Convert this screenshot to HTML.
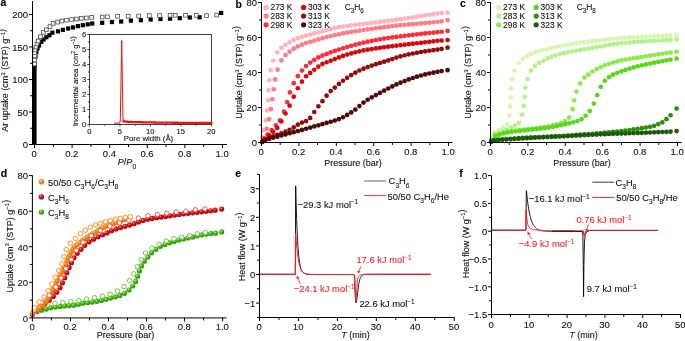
<!DOCTYPE html>
<html><head><meta charset="utf-8"><style>
html,body{margin:0;padding:0;background:#fff;}
svg{display:block;filter:blur(0.35px);}
text{font-family:"Liberation Sans", sans-serif;stroke-width:0.1px;}
</style></head><body>
<svg width="685" height="341" viewBox="0 0 685 341">
<rect width="685" height="341" fill="#fff"/>
<text x="0.6" y="6.3" font-size="10.5" text-anchor="start" fill="#000" stroke="#000" font-weight="bold" stroke-width="0.45">a</text>
<rect x="32.4" y="63.75" width="4.2" height="80.75" fill="#000"/>
<rect x="32.4" y="63.75" width="4.2" height="4.2" fill="#000"/>
<rect x="33.34" y="54.65" width="4.2" height="4.2" fill="#000"/>
<rect x="34.28" y="50.1" width="4.2" height="4.2" fill="#000"/>
<rect x="35.41" y="46.2" width="4.2" height="4.2" fill="#000"/>
<rect x="36.91" y="43.34" width="4.2" height="4.2" fill="#000"/>
<rect x="39.17" y="39.7" width="4.2" height="4.2" fill="#000"/>
<rect x="41.42" y="37.42" width="4.2" height="4.2" fill="#000"/>
<rect x="44.24" y="35.15" width="4.2" height="4.2" fill="#000"/>
<rect x="47.25" y="33.2" width="4.2" height="4.2" fill="#000"/>
<rect x="50.26" y="30.6" width="4.2" height="4.2" fill="#000"/>
<rect x="55.9" y="29.23" width="4.2" height="4.2" fill="#000"/>
<rect x="60.79" y="27.74" width="4.2" height="4.2" fill="#000"/>
<rect x="66.05" y="26.37" width="4.2" height="4.2" fill="#000"/>
<rect x="70.94" y="25.34" width="4.2" height="4.2" fill="#000"/>
<rect x="75.83" y="24.04" width="4.2" height="4.2" fill="#000"/>
<rect x="80.72" y="23.12" width="4.2" height="4.2" fill="#000"/>
<rect x="85.6" y="22.21" width="4.2" height="4.2" fill="#000"/>
<rect x="90.12" y="21.43" width="4.2" height="4.2" fill="#000"/>
<rect x="100.08" y="20.72" width="4.2" height="4.2" fill="#000"/>
<rect x="109.86" y="19.94" width="4.2" height="4.2" fill="#000"/>
<rect x="119.07" y="19.42" width="4.2" height="4.2" fill="#000"/>
<rect x="128.84" y="18.51" width="4.2" height="4.2" fill="#000"/>
<rect x="138.81" y="18.12" width="4.2" height="4.2" fill="#000"/>
<rect x="148.58" y="17.4" width="4.2" height="4.2" fill="#000"/>
<rect x="158.36" y="16.95" width="4.2" height="4.2" fill="#000"/>
<rect x="167.95" y="16.56" width="4.2" height="4.2" fill="#000"/>
<rect x="177.72" y="16.1" width="4.2" height="4.2" fill="#000"/>
<rect x="187.69" y="15.39" width="4.2" height="4.2" fill="#000"/>
<rect x="197.46" y="15.2" width="4.2" height="4.2" fill="#000"/>
<rect x="32.65" y="62.18" width="3.7" height="3.7" fill="#fff" stroke="#555" stroke-width="0.85"/>
<rect x="32.65" y="58.15" width="3.7" height="3.7" fill="#fff" stroke="#555" stroke-width="0.85"/>
<rect x="32.74" y="54.12" width="3.7" height="3.7" fill="#fff" stroke="#555" stroke-width="0.85"/>
<rect x="32.74" y="50.93" width="3.7" height="3.7" fill="#fff" stroke="#555" stroke-width="0.85"/>
<rect x="33.21" y="48.07" width="3.7" height="3.7" fill="#fff" stroke="#555" stroke-width="0.85"/>
<rect x="34.15" y="45.15" width="3.7" height="3.7" fill="#fff" stroke="#555" stroke-width="0.85"/>
<rect x="35.19" y="42.03" width="3.7" height="3.7" fill="#fff" stroke="#555" stroke-width="0.85"/>
<rect x="36.35" y="39.23" width="3.7" height="3.7" fill="#fff" stroke="#555" stroke-width="0.85"/>
<rect x="38.55" y="34.88" width="3.7" height="3.7" fill="#fff" stroke="#555" stroke-width="0.85"/>
<rect x="41.54" y="30.46" width="3.7" height="3.7" fill="#fff" stroke="#555" stroke-width="0.85"/>
<rect x="44.46" y="27.92" width="3.7" height="3.7" fill="#fff" stroke="#555" stroke-width="0.85"/>
<rect x="48.14" y="24.67" width="3.7" height="3.7" fill="#fff" stroke="#555" stroke-width="0.85"/>
<rect x="51.26" y="21.55" width="3.7" height="3.7" fill="#fff" stroke="#555" stroke-width="0.85"/>
<rect x="55.77" y="20.25" width="3.7" height="3.7" fill="#fff" stroke="#555" stroke-width="0.85"/>
<rect x="60.1" y="19.15" width="3.7" height="3.7" fill="#fff" stroke="#555" stroke-width="0.85"/>
<rect x="64.61" y="18.37" width="3.7" height="3.7" fill="#fff" stroke="#555" stroke-width="0.85"/>
<rect x="69.69" y="17.65" width="3.7" height="3.7" fill="#fff" stroke="#555" stroke-width="0.85"/>
<rect x="74.57" y="17.2" width="3.7" height="3.7" fill="#fff" stroke="#555" stroke-width="0.85"/>
<rect x="79.46" y="16.55" width="3.7" height="3.7" fill="#fff" stroke="#555" stroke-width="0.85"/>
<rect x="84.54" y="16.16" width="3.7" height="3.7" fill="#fff" stroke="#555" stroke-width="0.85"/>
<rect x="89.8" y="15.57" width="3.7" height="3.7" fill="#fff" stroke="#555" stroke-width="0.85"/>
<rect x="100.33" y="15.25" width="3.7" height="3.7" fill="#fff" stroke="#555" stroke-width="0.85"/>
<rect x="105.59" y="14.99" width="3.7" height="3.7" fill="#fff" stroke="#555" stroke-width="0.85"/>
<rect x="115.75" y="14.34" width="3.7" height="3.7" fill="#fff" stroke="#555" stroke-width="0.85"/>
<rect x="126.27" y="14.34" width="3.7" height="3.7" fill="#fff" stroke="#555" stroke-width="0.85"/>
<rect x="136.8" y="14.21" width="3.7" height="3.7" fill="#fff" stroke="#555" stroke-width="0.85"/>
<rect x="147.52" y="13.75" width="3.7" height="3.7" fill="#fff" stroke="#555" stroke-width="0.85"/>
<rect x="157.67" y="13.75" width="3.7" height="3.7" fill="#fff" stroke="#555" stroke-width="0.85"/>
<rect x="168.2" y="13.43" width="3.7" height="3.7" fill="#fff" stroke="#555" stroke-width="0.85"/>
<rect x="173.46" y="13.43" width="3.7" height="3.7" fill="#fff" stroke="#555" stroke-width="0.85"/>
<rect x="183.61" y="13.43" width="3.7" height="3.7" fill="#fff" stroke="#555" stroke-width="0.85"/>
<rect x="194.33" y="13.43" width="3.7" height="3.7" fill="#fff" stroke="#555" stroke-width="0.85"/>
<rect x="204.67" y="13.75" width="3.7" height="3.7" fill="#fff" stroke="#555" stroke-width="0.85"/>
<rect x="214.82" y="13.17" width="3.7" height="3.7" fill="#fff" stroke="#555" stroke-width="0.85"/>
<rect x="219.08" y="10.84" width="4.2" height="4.2" fill="#000"/>
<line x1="32.5" y1="1" x2="32.5" y2="145" stroke="#000" stroke-width="1.0" />
<line x1="32" y1="144.5" x2="227" y2="144.5" stroke="#000" stroke-width="1.0" />
<line x1="29" y1="144.5" x2="32.5" y2="144.5" stroke="#000" stroke-width="1.0" />
<line x1="29" y1="112" x2="32.5" y2="112" stroke="#000" stroke-width="1.0" />
<line x1="29" y1="79.5" x2="32.5" y2="79.5" stroke="#000" stroke-width="1.0" />
<line x1="29" y1="47" x2="32.5" y2="47" stroke="#000" stroke-width="1.0" />
<line x1="29" y1="14.5" x2="32.5" y2="14.5" stroke="#000" stroke-width="1.0" />
<line x1="30" y1="128.25" x2="32.5" y2="128.25" stroke="#000" stroke-width="1.0" />
<line x1="30" y1="95.75" x2="32.5" y2="95.75" stroke="#000" stroke-width="1.0" />
<line x1="30" y1="63.25" x2="32.5" y2="63.25" stroke="#000" stroke-width="1.0" />
<line x1="30" y1="30.75" x2="32.5" y2="30.75" stroke="#000" stroke-width="1.0" />
<line x1="34.5" y1="144.5" x2="34.5" y2="148" stroke="#000" stroke-width="1.0" />
<line x1="72.1" y1="144.5" x2="72.1" y2="148" stroke="#000" stroke-width="1.0" />
<line x1="109.7" y1="144.5" x2="109.7" y2="148" stroke="#000" stroke-width="1.0" />
<line x1="147.3" y1="144.5" x2="147.3" y2="148" stroke="#000" stroke-width="1.0" />
<line x1="184.9" y1="144.5" x2="184.9" y2="148" stroke="#000" stroke-width="1.0" />
<line x1="222.5" y1="144.5" x2="222.5" y2="148" stroke="#000" stroke-width="1.0" />
<line x1="53.3" y1="144.5" x2="53.3" y2="147" stroke="#000" stroke-width="1.0" />
<line x1="90.9" y1="144.5" x2="90.9" y2="147" stroke="#000" stroke-width="1.0" />
<line x1="128.5" y1="144.5" x2="128.5" y2="147" stroke="#000" stroke-width="1.0" />
<line x1="166.1" y1="144.5" x2="166.1" y2="147" stroke="#000" stroke-width="1.0" />
<line x1="203.7" y1="144.5" x2="203.7" y2="147" stroke="#000" stroke-width="1.0" />
<text x="28.1" y="148.3" font-size="9.5" text-anchor="end" fill="#111" stroke="#111" >0</text>
<text x="28.1" y="115.8" font-size="9.5" text-anchor="end" fill="#111" stroke="#111" >50</text>
<text x="28.1" y="83.3" font-size="9.5" text-anchor="end" fill="#111" stroke="#111" >100</text>
<text x="28.1" y="50.8" font-size="9.5" text-anchor="end" fill="#111" stroke="#111" >150</text>
<text x="28.1" y="18.3" font-size="9.5" text-anchor="end" fill="#111" stroke="#111" >200</text>
<text x="34.2" y="157.4" font-size="9.5" text-anchor="middle" fill="#111" stroke="#111" >0</text>
<text x="71.8" y="157.4" font-size="9.5" text-anchor="middle" fill="#111" stroke="#111" >0.2</text>
<text x="109.4" y="157.4" font-size="9.5" text-anchor="middle" fill="#111" stroke="#111" >0.4</text>
<text x="147" y="157.4" font-size="9.5" text-anchor="middle" fill="#111" stroke="#111" >0.6</text>
<text x="184.6" y="157.4" font-size="9.5" text-anchor="middle" fill="#111" stroke="#111" >0.8</text>
<text x="222.2" y="157.4" font-size="9.5" text-anchor="middle" fill="#111" stroke="#111" >1.0</text>
<text transform="translate(8,80.3) rotate(-90)" font-size="9" text-anchor="middle" fill="#111" stroke="#111">Ar uptake (cm<tspan dy="-3.2" font-size="6">3</tspan><tspan dy="3.2"> </tspan>(STP) g<tspan dy="-3.2" font-size="6">−1</tspan><tspan dy="3.2"></tspan>)</text>
<text x="127" y="165.3" font-size="9" text-anchor="middle" fill="#111" stroke="#111"><tspan font-style="italic">P</tspan>/<tspan font-style="italic">P</tspan><tspan dy="3.2" font-size="6.8">0</tspan></text>
<rect x="89.5" y="34.5" width="122" height="90" fill="#fff" stroke="#2a2a2a" stroke-width="0.9"/>
<line x1="87.3" y1="124.5" x2="89.5" y2="124.5" stroke="#2a2a2a" stroke-width="0.9" />
<text x="86.3" y="127.2" font-size="7.6" text-anchor="end" fill="#111" stroke="#111" >0</text>
<line x1="87.3" y1="109.5" x2="89.5" y2="109.5" stroke="#2a2a2a" stroke-width="0.9" />
<text x="86.3" y="112.2" font-size="7.6" text-anchor="end" fill="#111" stroke="#111" >1</text>
<line x1="87.3" y1="94.5" x2="89.5" y2="94.5" stroke="#2a2a2a" stroke-width="0.9" />
<text x="86.3" y="97.2" font-size="7.6" text-anchor="end" fill="#111" stroke="#111" >2</text>
<line x1="87.3" y1="79.5" x2="89.5" y2="79.5" stroke="#2a2a2a" stroke-width="0.9" />
<text x="86.3" y="82.2" font-size="7.6" text-anchor="end" fill="#111" stroke="#111" >3</text>
<line x1="87.3" y1="64.5" x2="89.5" y2="64.5" stroke="#2a2a2a" stroke-width="0.9" />
<text x="86.3" y="67.2" font-size="7.6" text-anchor="end" fill="#111" stroke="#111" >4</text>
<line x1="87.3" y1="49.5" x2="89.5" y2="49.5" stroke="#2a2a2a" stroke-width="0.9" />
<text x="86.3" y="52.2" font-size="7.6" text-anchor="end" fill="#111" stroke="#111" >5</text>
<line x1="87.3" y1="34.5" x2="89.5" y2="34.5" stroke="#2a2a2a" stroke-width="0.9" />
<text x="86.3" y="37.2" font-size="7.6" text-anchor="end" fill="#111" stroke="#111" >6</text>
<line x1="88.1" y1="117" x2="89.5" y2="117" stroke="#2a2a2a" stroke-width="0.9" />
<line x1="88.1" y1="102" x2="89.5" y2="102" stroke="#2a2a2a" stroke-width="0.9" />
<line x1="88.1" y1="87" x2="89.5" y2="87" stroke="#2a2a2a" stroke-width="0.9" />
<line x1="88.1" y1="72" x2="89.5" y2="72" stroke="#2a2a2a" stroke-width="0.9" />
<line x1="88.1" y1="57" x2="89.5" y2="57" stroke="#2a2a2a" stroke-width="0.9" />
<line x1="88.1" y1="42" x2="89.5" y2="42" stroke="#2a2a2a" stroke-width="0.9" />
<line x1="89.5" y1="124.5" x2="89.5" y2="126.4" stroke="#2a2a2a" stroke-width="0.9" />
<text x="89.3" y="133.7" font-size="7.6" text-anchor="middle" fill="#111" stroke="#111" >0</text>
<line x1="120" y1="124.5" x2="120" y2="126.4" stroke="#2a2a2a" stroke-width="0.9" />
<text x="119.8" y="133.7" font-size="7.6" text-anchor="middle" fill="#111" stroke="#111" >5</text>
<line x1="150.5" y1="124.5" x2="150.5" y2="126.4" stroke="#2a2a2a" stroke-width="0.9" />
<text x="150.3" y="133.7" font-size="7.6" text-anchor="middle" fill="#111" stroke="#111" >10</text>
<line x1="181" y1="124.5" x2="181" y2="126.4" stroke="#2a2a2a" stroke-width="0.9" />
<text x="180.8" y="133.7" font-size="7.6" text-anchor="middle" fill="#111" stroke="#111" >15</text>
<line x1="211.5" y1="124.5" x2="211.5" y2="126.4" stroke="#2a2a2a" stroke-width="0.9" />
<text x="211.3" y="133.7" font-size="7.6" text-anchor="middle" fill="#111" stroke="#111" >20</text>
<line x1="104.75" y1="124.5" x2="104.75" y2="125.8" stroke="#2a2a2a" stroke-width="0.9" />
<line x1="135.25" y1="124.5" x2="135.25" y2="125.8" stroke="#2a2a2a" stroke-width="0.9" />
<line x1="165.75" y1="124.5" x2="165.75" y2="125.8" stroke="#2a2a2a" stroke-width="0.9" />
<line x1="196.25" y1="124.5" x2="196.25" y2="125.8" stroke="#2a2a2a" stroke-width="0.9" />
<text transform="translate(78,81.3) rotate(-90)" font-size="7.7" text-anchor="middle" fill="#111" stroke="#111">Incremental area (cm<tspan dy="-2.8" font-size="5">2</tspan><tspan dy="2.8"> </tspan>g<tspan dy="-2.8" font-size="5">−1</tspan><tspan dy="2.8"></tspan>)</text>
<text x="148.5" y="140.8" font-size="7.8" text-anchor="middle" fill="#111" stroke="#111" >Pore width (Å)</text>
<path d="M113.9,123.19 L119.69,123.19 L120.3,120 L121.71,41.1 L122.93,117 L123.35,121.31" fill="none" stroke="#f01018" stroke-width="1.0" stroke-linejoin="round"/>
<path d="M123.35,121.29 L124.25,121.39 L125.14,121.49 L126.03,121.59 L126.92,121.68 L127.81,121.76 L128.7,121.83 L129.59,121.88 L130.48,121.93 L131.37,121.96 L132.26,122 L133.15,122.03 L134.04,122.06 L134.93,122.08 L135.82,122.1 L136.71,122.13 L137.6,122.15 L138.49,122.17 L139.38,122.19 L140.27,122.21 L141.16,122.23 L142.05,122.25 L142.94,122.27 L143.83,122.29 L144.72,122.31 L145.61,122.33 L146.5,122.35 L147.39,122.37 L148.28,122.39 L149.18,122.41 L150.07,122.42 L150.96,122.44 L151.85,122.46 L152.74,122.47 L153.63,122.49 L154.52,122.5 L155.41,122.51 L156.3,122.53 L157.19,122.54 L158.08,122.56 L158.97,122.57 L159.86,122.58 L160.75,122.59 L161.64,122.61 L162.53,122.62 L163.42,122.63 L164.31,122.64 L165.2,122.65 L166.09,122.66 L166.98,122.67 L167.87,122.68 L168.76,122.69 L169.65,122.7 L170.54,122.7 L171.43,122.71 L172.32,122.72 L173.21,122.73 L174.11,122.73 L175,122.74 L175.89,122.75 L176.78,122.75 L177.67,122.76 L178.56,122.77 L179.45,122.78 L180.34,122.78 L181.23,122.79 L182.12,122.8 L183.01,122.8 L183.9,122.81 L184.79,122.82 L185.68,122.82 L186.57,122.83 L187.46,122.83 L188.35,122.84 L189.24,122.85 L190.13,122.85 L191.02,122.86 L191.91,122.86 L192.8,122.87 L193.69,122.87 L194.58,122.88 L195.47,122.88 L196.36,122.89 L197.25,122.89 L198.14,122.9 L199.04,122.9 L199.93,122.9 L200.82,122.91 L201.71,122.91 L202.6,122.91 L203.49,122.91 L204.38,122.92 L205.27,122.92 L206.16,122.92 L207.05,122.92 L207.94,122.92 L208.83,122.92 L209.72,122.92 L210.61,122.92 L211.5,122.92" fill="none" stroke="#f01018" stroke-width="2.3" stroke-linecap="round"/>
<circle cx="121.71" cy="41.1" r="0.9" fill="#f01018"/>
<text x="235.6" y="7.5" font-size="10.5" text-anchor="start" fill="#000" stroke="#000" font-weight="bold" stroke-width="0.45">b</text>
<circle cx="262.25" cy="137.59" r="2.35" fill="#ffb3bc" />
<circle cx="263.45" cy="130.05" r="2.35" fill="#ffb3bc" />
<circle cx="265.76" cy="120.32" r="2.35" fill="#ffb3bc" />
<circle cx="267.02" cy="110.34" r="2.35" fill="#ffb3bc" />
<circle cx="267.99" cy="100.34" r="2.35" fill="#ffb3bc" />
<circle cx="268.55" cy="90.21" r="2.35" fill="#ffb3bc" />
<circle cx="269.32" cy="80.2" r="2.35" fill="#ffb3bc" />
<circle cx="270.65" cy="70.22" r="2.35" fill="#ffb3bc" />
<circle cx="273.2" cy="60.51" r="2.35" fill="#ffb3bc" />
<circle cx="277.3" cy="52.5" r="2.35" fill="#ffb3bc" />
<circle cx="281.41" cy="47.74" r="2.35" fill="#ffb3bc" />
<circle cx="285.52" cy="44.73" r="2.35" fill="#ffb3bc" />
<circle cx="289.62" cy="42.26" r="2.35" fill="#ffb3bc" />
<circle cx="293.73" cy="39.96" r="2.35" fill="#ffb3bc" />
<circle cx="297.84" cy="38.17" r="2.35" fill="#ffb3bc" />
<circle cx="301.95" cy="36.78" r="2.35" fill="#ffb3bc" />
<circle cx="306.05" cy="35.58" r="2.35" fill="#ffb3bc" />
<circle cx="310.16" cy="34.5" r="2.35" fill="#ffb3bc" />
<circle cx="314.27" cy="33.46" r="2.35" fill="#ffb3bc" />
<circle cx="318.37" cy="32.39" r="2.35" fill="#ffb3bc" />
<circle cx="322.48" cy="31.27" r="2.35" fill="#ffb3bc" />
<circle cx="326.59" cy="30.14" r="2.35" fill="#ffb3bc" />
<circle cx="330.69" cy="29.05" r="2.35" fill="#ffb3bc" />
<circle cx="334.8" cy="28.06" r="2.35" fill="#ffb3bc" />
<circle cx="338.91" cy="27.2" r="2.35" fill="#ffb3bc" />
<circle cx="343.01" cy="26.51" r="2.35" fill="#ffb3bc" />
<circle cx="347.12" cy="25.89" r="2.35" fill="#ffb3bc" />
<circle cx="351.23" cy="25.33" r="2.35" fill="#ffb3bc" />
<circle cx="355.34" cy="24.81" r="2.35" fill="#ffb3bc" />
<circle cx="359.44" cy="24.33" r="2.35" fill="#ffb3bc" />
<circle cx="363.55" cy="23.87" r="2.35" fill="#ffb3bc" />
<circle cx="367.66" cy="23.42" r="2.35" fill="#ffb3bc" />
<circle cx="371.76" cy="22.95" r="2.35" fill="#ffb3bc" />
<circle cx="375.87" cy="22.46" r="2.35" fill="#ffb3bc" />
<circle cx="379.98" cy="21.94" r="2.35" fill="#ffb3bc" />
<circle cx="384.08" cy="21.38" r="2.35" fill="#ffb3bc" />
<circle cx="388.19" cy="20.81" r="2.35" fill="#ffb3bc" />
<circle cx="392.3" cy="20.24" r="2.35" fill="#ffb3bc" />
<circle cx="396.4" cy="19.65" r="2.35" fill="#ffb3bc" />
<circle cx="400.51" cy="19.07" r="2.35" fill="#ffb3bc" />
<circle cx="404.62" cy="18.48" r="2.35" fill="#ffb3bc" />
<circle cx="408.73" cy="17.89" r="2.35" fill="#ffb3bc" />
<circle cx="412.83" cy="17.3" r="2.35" fill="#ffb3bc" />
<circle cx="416.94" cy="16.67" r="2.35" fill="#ffb3bc" />
<circle cx="421.05" cy="16.02" r="2.35" fill="#ffb3bc" />
<circle cx="425.15" cy="15.36" r="2.35" fill="#ffb3bc" />
<circle cx="429.26" cy="14.73" r="2.35" fill="#ffb3bc" />
<circle cx="433.37" cy="14.14" r="2.35" fill="#ffb3bc" />
<circle cx="437.47" cy="13.61" r="2.35" fill="#ffb3bc" />
<circle cx="441.58" cy="13.17" r="2.35" fill="#ffb3bc" />
<circle cx="447.56" cy="12.71" r="2.35" fill="#ffb3bc" />
<circle cx="263.06" cy="138.07" r="2.35" fill="#ff7b88" />
<circle cx="266.71" cy="128.76" r="2.35" fill="#ff7b88" />
<circle cx="269.12" cy="119.05" r="2.35" fill="#ff7b88" />
<circle cx="270.88" cy="109.16" r="2.35" fill="#ff7b88" />
<circle cx="272.39" cy="99.25" r="2.35" fill="#ff7b88" />
<circle cx="273.82" cy="89.33" r="2.35" fill="#ff7b88" />
<circle cx="275.23" cy="79.39" r="2.35" fill="#ff7b88" />
<circle cx="277.58" cy="69.66" r="2.35" fill="#ff7b88" />
<circle cx="281.41" cy="60.41" r="2.35" fill="#ff7b88" />
<circle cx="285.52" cy="54.99" r="2.35" fill="#ff7b88" />
<circle cx="289.62" cy="51.72" r="2.35" fill="#ff7b88" />
<circle cx="293.73" cy="48.7" r="2.35" fill="#ff7b88" />
<circle cx="297.84" cy="46.39" r="2.35" fill="#ff7b88" />
<circle cx="301.95" cy="44.63" r="2.35" fill="#ff7b88" />
<circle cx="306.05" cy="43.12" r="2.35" fill="#ff7b88" />
<circle cx="310.16" cy="41.79" r="2.35" fill="#ff7b88" />
<circle cx="314.27" cy="40.57" r="2.35" fill="#ff7b88" />
<circle cx="318.37" cy="39.38" r="2.35" fill="#ff7b88" />
<circle cx="322.48" cy="38.21" r="2.35" fill="#ff7b88" />
<circle cx="326.59" cy="37.11" r="2.35" fill="#ff7b88" />
<circle cx="330.69" cy="36.07" r="2.35" fill="#ff7b88" />
<circle cx="334.8" cy="35.11" r="2.35" fill="#ff7b88" />
<circle cx="338.91" cy="34.23" r="2.35" fill="#ff7b88" />
<circle cx="343.01" cy="33.43" r="2.35" fill="#ff7b88" />
<circle cx="347.12" cy="32.67" r="2.35" fill="#ff7b88" />
<circle cx="351.23" cy="31.96" r="2.35" fill="#ff7b88" />
<circle cx="355.34" cy="31.28" r="2.35" fill="#ff7b88" />
<circle cx="359.44" cy="30.64" r="2.35" fill="#ff7b88" />
<circle cx="363.55" cy="30.02" r="2.35" fill="#ff7b88" />
<circle cx="367.66" cy="29.42" r="2.35" fill="#ff7b88" />
<circle cx="371.76" cy="28.84" r="2.35" fill="#ff7b88" />
<circle cx="375.87" cy="28.27" r="2.35" fill="#ff7b88" />
<circle cx="379.98" cy="27.71" r="2.35" fill="#ff7b88" />
<circle cx="384.08" cy="27.16" r="2.35" fill="#ff7b88" />
<circle cx="388.19" cy="26.64" r="2.35" fill="#ff7b88" />
<circle cx="392.3" cy="26.14" r="2.35" fill="#ff7b88" />
<circle cx="396.4" cy="25.66" r="2.35" fill="#ff7b88" />
<circle cx="400.51" cy="25.2" r="2.35" fill="#ff7b88" />
<circle cx="404.62" cy="24.78" r="2.35" fill="#ff7b88" />
<circle cx="408.73" cy="24.41" r="2.35" fill="#ff7b88" />
<circle cx="412.83" cy="24.06" r="2.35" fill="#ff7b88" />
<circle cx="416.94" cy="23.73" r="2.35" fill="#ff7b88" />
<circle cx="421.05" cy="23.39" r="2.35" fill="#ff7b88" />
<circle cx="425.15" cy="23.04" r="2.35" fill="#ff7b88" />
<circle cx="429.26" cy="22.67" r="2.35" fill="#ff7b88" />
<circle cx="433.37" cy="22.25" r="2.35" fill="#ff7b88" />
<circle cx="437.47" cy="21.77" r="2.35" fill="#ff7b88" />
<circle cx="441.58" cy="21.23" r="2.35" fill="#ff7b88" />
<circle cx="447.56" cy="20.03" r="2.35" fill="#ff7b88" />
<circle cx="263.49" cy="139.56" r="2.35" fill="#ff2a3a" />
<circle cx="267.6" cy="134.58" r="2.35" fill="#ff2a3a" />
<circle cx="271.71" cy="130.14" r="2.35" fill="#ff2a3a" />
<circle cx="275.82" cy="125.34" r="2.35" fill="#ff2a3a" />
<circle cx="279.92" cy="120.42" r="2.35" fill="#ff2a3a" />
<circle cx="284.03" cy="111.58" r="2.35" fill="#ff2a3a" />
<circle cx="287.18" cy="102.07" r="2.35" fill="#ff2a3a" />
<circle cx="289.91" cy="92.43" r="2.35" fill="#ff2a3a" />
<circle cx="293.73" cy="83.17" r="2.35" fill="#ff2a3a" />
<circle cx="297.84" cy="76.21" r="2.35" fill="#ff2a3a" />
<circle cx="301.95" cy="70.57" r="2.35" fill="#ff2a3a" />
<circle cx="306.05" cy="66.02" r="2.35" fill="#ff2a3a" />
<circle cx="310.16" cy="62.6" r="2.35" fill="#ff2a3a" />
<circle cx="314.27" cy="59.88" r="2.35" fill="#ff2a3a" />
<circle cx="318.37" cy="57.44" r="2.35" fill="#ff2a3a" />
<circle cx="322.48" cy="55.56" r="2.35" fill="#ff2a3a" />
<circle cx="326.59" cy="53.88" r="2.35" fill="#ff2a3a" />
<circle cx="330.69" cy="52.36" r="2.35" fill="#ff2a3a" />
<circle cx="334.8" cy="50.95" r="2.35" fill="#ff2a3a" />
<circle cx="338.91" cy="49.6" r="2.35" fill="#ff2a3a" />
<circle cx="343.01" cy="48.27" r="2.35" fill="#ff2a3a" />
<circle cx="347.12" cy="46.99" r="2.35" fill="#ff2a3a" />
<circle cx="351.23" cy="45.79" r="2.35" fill="#ff2a3a" />
<circle cx="355.34" cy="44.65" r="2.35" fill="#ff2a3a" />
<circle cx="359.44" cy="43.6" r="2.35" fill="#ff2a3a" />
<circle cx="363.55" cy="42.62" r="2.35" fill="#ff2a3a" />
<circle cx="367.66" cy="41.68" r="2.35" fill="#ff2a3a" />
<circle cx="371.76" cy="40.81" r="2.35" fill="#ff2a3a" />
<circle cx="375.87" cy="40" r="2.35" fill="#ff2a3a" />
<circle cx="379.98" cy="39.26" r="2.35" fill="#ff2a3a" />
<circle cx="384.08" cy="38.61" r="2.35" fill="#ff2a3a" />
<circle cx="388.19" cy="38.01" r="2.35" fill="#ff2a3a" />
<circle cx="392.3" cy="37.46" r="2.35" fill="#ff2a3a" />
<circle cx="396.4" cy="36.93" r="2.35" fill="#ff2a3a" />
<circle cx="400.51" cy="36.39" r="2.35" fill="#ff2a3a" />
<circle cx="404.62" cy="35.86" r="2.35" fill="#ff2a3a" />
<circle cx="408.73" cy="35.34" r="2.35" fill="#ff2a3a" />
<circle cx="412.83" cy="34.83" r="2.35" fill="#ff2a3a" />
<circle cx="416.94" cy="34.34" r="2.35" fill="#ff2a3a" />
<circle cx="421.05" cy="33.87" r="2.35" fill="#ff2a3a" />
<circle cx="425.15" cy="33.43" r="2.35" fill="#ff2a3a" />
<circle cx="429.26" cy="33.02" r="2.35" fill="#ff2a3a" />
<circle cx="433.37" cy="32.61" r="2.35" fill="#ff2a3a" />
<circle cx="437.47" cy="32.18" r="2.35" fill="#ff2a3a" />
<circle cx="441.58" cy="31.73" r="2.35" fill="#ff2a3a" />
<circle cx="447.56" cy="30.97" r="2.35" fill="#ff2a3a" />
<circle cx="262.25" cy="141.64" r="2.35" fill="#d20a0e" />
<circle cx="264.98" cy="138.72" r="2.35" fill="#d20a0e" />
<circle cx="269.09" cy="135.23" r="2.35" fill="#d20a0e" />
<circle cx="273.2" cy="131.78" r="2.35" fill="#d20a0e" />
<circle cx="277.3" cy="127.97" r="2.35" fill="#d20a0e" />
<circle cx="281.41" cy="121.4" r="2.35" fill="#d20a0e" />
<circle cx="285.52" cy="113.51" r="2.35" fill="#d20a0e" />
<circle cx="289.62" cy="105.67" r="2.35" fill="#d20a0e" />
<circle cx="293.73" cy="96.64" r="2.35" fill="#d20a0e" />
<circle cx="297.84" cy="88.27" r="2.35" fill="#d20a0e" />
<circle cx="301.95" cy="81.67" r="2.35" fill="#d20a0e" />
<circle cx="306.05" cy="76.23" r="2.35" fill="#d20a0e" />
<circle cx="310.16" cy="72.93" r="2.35" fill="#d20a0e" />
<circle cx="314.27" cy="69.76" r="2.35" fill="#d20a0e" />
<circle cx="318.37" cy="66.65" r="2.35" fill="#d20a0e" />
<circle cx="322.48" cy="63.92" r="2.35" fill="#d20a0e" />
<circle cx="326.59" cy="62.24" r="2.35" fill="#d20a0e" />
<circle cx="330.69" cy="60.69" r="2.35" fill="#d20a0e" />
<circle cx="334.8" cy="59.03" r="2.35" fill="#d20a0e" />
<circle cx="338.91" cy="57.4" r="2.35" fill="#d20a0e" />
<circle cx="343.01" cy="55.97" r="2.35" fill="#d20a0e" />
<circle cx="347.12" cy="54.62" r="2.35" fill="#d20a0e" />
<circle cx="351.23" cy="53.38" r="2.35" fill="#d20a0e" />
<circle cx="355.34" cy="52.26" r="2.35" fill="#d20a0e" />
<circle cx="359.44" cy="51.28" r="2.35" fill="#d20a0e" />
<circle cx="363.55" cy="50.45" r="2.35" fill="#d20a0e" />
<circle cx="367.66" cy="49.72" r="2.35" fill="#d20a0e" />
<circle cx="371.76" cy="49.05" r="2.35" fill="#d20a0e" />
<circle cx="375.87" cy="48.44" r="2.35" fill="#d20a0e" />
<circle cx="379.98" cy="47.84" r="2.35" fill="#d20a0e" />
<circle cx="384.08" cy="47.25" r="2.35" fill="#d20a0e" />
<circle cx="388.19" cy="46.7" r="2.35" fill="#d20a0e" />
<circle cx="392.3" cy="46.17" r="2.35" fill="#d20a0e" />
<circle cx="396.4" cy="45.65" r="2.35" fill="#d20a0e" />
<circle cx="400.51" cy="45.15" r="2.35" fill="#d20a0e" />
<circle cx="404.62" cy="44.66" r="2.35" fill="#d20a0e" />
<circle cx="408.73" cy="44.18" r="2.35" fill="#d20a0e" />
<circle cx="412.83" cy="43.72" r="2.35" fill="#d20a0e" />
<circle cx="416.94" cy="43.26" r="2.35" fill="#d20a0e" />
<circle cx="421.05" cy="42.79" r="2.35" fill="#d20a0e" />
<circle cx="425.15" cy="42.3" r="2.35" fill="#d20a0e" />
<circle cx="429.26" cy="41.81" r="2.35" fill="#d20a0e" />
<circle cx="433.37" cy="41.32" r="2.35" fill="#d20a0e" />
<circle cx="437.47" cy="40.87" r="2.35" fill="#d20a0e" />
<circle cx="441.58" cy="40.48" r="2.35" fill="#d20a0e" />
<circle cx="447.56" cy="40.01" r="2.35" fill="#d20a0e" />
<circle cx="262.25" cy="141.91" r="2.35" fill="#940b0b" />
<circle cx="264.98" cy="140.02" r="2.35" fill="#940b0b" />
<circle cx="269.09" cy="138" r="2.35" fill="#940b0b" />
<circle cx="273.2" cy="136.32" r="2.35" fill="#940b0b" />
<circle cx="277.3" cy="134.83" r="2.35" fill="#940b0b" />
<circle cx="281.41" cy="133.28" r="2.35" fill="#940b0b" />
<circle cx="285.52" cy="131.69" r="2.35" fill="#940b0b" />
<circle cx="289.62" cy="129.86" r="2.35" fill="#940b0b" />
<circle cx="293.73" cy="127.39" r="2.35" fill="#940b0b" />
<circle cx="297.84" cy="124.66" r="2.35" fill="#940b0b" />
<circle cx="301.95" cy="122.61" r="2.35" fill="#940b0b" />
<circle cx="306.05" cy="121.11" r="2.35" fill="#940b0b" />
<circle cx="310.16" cy="117.94" r="2.35" fill="#940b0b" />
<circle cx="314.27" cy="112.01" r="2.35" fill="#940b0b" />
<circle cx="318.37" cy="106.33" r="2.35" fill="#940b0b" />
<circle cx="322.48" cy="101.18" r="2.35" fill="#940b0b" />
<circle cx="326.59" cy="95.72" r="2.35" fill="#940b0b" />
<circle cx="330.69" cy="91.03" r="2.35" fill="#940b0b" />
<circle cx="334.8" cy="87.56" r="2.35" fill="#940b0b" />
<circle cx="338.91" cy="83.91" r="2.35" fill="#940b0b" />
<circle cx="343.01" cy="80.77" r="2.35" fill="#940b0b" />
<circle cx="347.12" cy="77.78" r="2.35" fill="#940b0b" />
<circle cx="351.23" cy="75.03" r="2.35" fill="#940b0b" />
<circle cx="355.34" cy="72.63" r="2.35" fill="#940b0b" />
<circle cx="359.44" cy="70.51" r="2.35" fill="#940b0b" />
<circle cx="363.55" cy="68.69" r="2.35" fill="#940b0b" />
<circle cx="367.66" cy="67.07" r="2.35" fill="#940b0b" />
<circle cx="371.76" cy="65.57" r="2.35" fill="#940b0b" />
<circle cx="375.87" cy="64.16" r="2.35" fill="#940b0b" />
<circle cx="379.98" cy="62.88" r="2.35" fill="#940b0b" />
<circle cx="384.08" cy="61.69" r="2.35" fill="#940b0b" />
<circle cx="388.19" cy="60.46" r="2.35" fill="#940b0b" />
<circle cx="392.3" cy="59.09" r="2.35" fill="#940b0b" />
<circle cx="396.4" cy="57.57" r="2.35" fill="#940b0b" />
<circle cx="400.51" cy="56.28" r="2.35" fill="#940b0b" />
<circle cx="404.62" cy="55.25" r="2.35" fill="#940b0b" />
<circle cx="408.73" cy="54.33" r="2.35" fill="#940b0b" />
<circle cx="412.83" cy="53.5" r="2.35" fill="#940b0b" />
<circle cx="416.94" cy="52.73" r="2.35" fill="#940b0b" />
<circle cx="421.05" cy="52" r="2.35" fill="#940b0b" />
<circle cx="425.15" cy="51.34" r="2.35" fill="#940b0b" />
<circle cx="429.26" cy="50.75" r="2.35" fill="#940b0b" />
<circle cx="433.37" cy="50.17" r="2.35" fill="#940b0b" />
<circle cx="437.47" cy="49.56" r="2.35" fill="#940b0b" />
<circle cx="441.58" cy="48.88" r="2.35" fill="#940b0b" />
<circle cx="447.56" cy="47.68" r="2.35" fill="#940b0b" />
<circle cx="262.25" cy="142.02" r="2.35" fill="#4e0808" />
<circle cx="264.98" cy="140.51" r="2.35" fill="#4e0808" />
<circle cx="269.09" cy="139.02" r="2.35" fill="#4e0808" />
<circle cx="273.2" cy="137.77" r="2.35" fill="#4e0808" />
<circle cx="277.3" cy="136.64" r="2.35" fill="#4e0808" />
<circle cx="281.41" cy="135.51" r="2.35" fill="#4e0808" />
<circle cx="285.52" cy="134.39" r="2.35" fill="#4e0808" />
<circle cx="289.62" cy="133.27" r="2.35" fill="#4e0808" />
<circle cx="293.73" cy="132.15" r="2.35" fill="#4e0808" />
<circle cx="297.84" cy="131.03" r="2.35" fill="#4e0808" />
<circle cx="301.95" cy="129.89" r="2.35" fill="#4e0808" />
<circle cx="306.05" cy="128.76" r="2.35" fill="#4e0808" />
<circle cx="310.16" cy="127.62" r="2.35" fill="#4e0808" />
<circle cx="314.27" cy="126.47" r="2.35" fill="#4e0808" />
<circle cx="318.37" cy="125.3" r="2.35" fill="#4e0808" />
<circle cx="322.48" cy="124.1" r="2.35" fill="#4e0808" />
<circle cx="326.59" cy="122.91" r="2.35" fill="#4e0808" />
<circle cx="330.69" cy="121.76" r="2.35" fill="#4e0808" />
<circle cx="334.8" cy="120.52" r="2.35" fill="#4e0808" />
<circle cx="338.91" cy="119.08" r="2.35" fill="#4e0808" />
<circle cx="343.01" cy="117.25" r="2.35" fill="#4e0808" />
<circle cx="347.12" cy="114.97" r="2.35" fill="#4e0808" />
<circle cx="351.23" cy="112.38" r="2.35" fill="#4e0808" />
<circle cx="355.34" cy="109.56" r="2.35" fill="#4e0808" />
<circle cx="359.44" cy="106.11" r="2.35" fill="#4e0808" />
<circle cx="363.55" cy="102.59" r="2.35" fill="#4e0808" />
<circle cx="367.66" cy="99.73" r="2.35" fill="#4e0808" />
<circle cx="371.76" cy="97.31" r="2.35" fill="#4e0808" />
<circle cx="375.87" cy="95.09" r="2.35" fill="#4e0808" />
<circle cx="379.98" cy="92.92" r="2.35" fill="#4e0808" />
<circle cx="384.08" cy="90.71" r="2.35" fill="#4e0808" />
<circle cx="388.19" cy="88.52" r="2.35" fill="#4e0808" />
<circle cx="392.3" cy="86.42" r="2.35" fill="#4e0808" />
<circle cx="396.4" cy="84.47" r="2.35" fill="#4e0808" />
<circle cx="400.51" cy="82.71" r="2.35" fill="#4e0808" />
<circle cx="404.62" cy="81.04" r="2.35" fill="#4e0808" />
<circle cx="408.73" cy="79.46" r="2.35" fill="#4e0808" />
<circle cx="412.83" cy="77.99" r="2.35" fill="#4e0808" />
<circle cx="416.94" cy="76.66" r="2.35" fill="#4e0808" />
<circle cx="421.05" cy="75.49" r="2.35" fill="#4e0808" />
<circle cx="425.15" cy="74.45" r="2.35" fill="#4e0808" />
<circle cx="429.26" cy="73.5" r="2.35" fill="#4e0808" />
<circle cx="433.37" cy="72.63" r="2.35" fill="#4e0808" />
<circle cx="437.47" cy="71.84" r="2.35" fill="#4e0808" />
<circle cx="441.58" cy="71.1" r="2.35" fill="#4e0808" />
<circle cx="447.56" cy="70.18" r="2.35" fill="#4e0808" />
<line x1="261.5" y1="2.2" x2="261.5" y2="143" stroke="#000" stroke-width="1.0" />
<line x1="261" y1="142.5" x2="452.5" y2="142.5" stroke="#000" stroke-width="1.0" />
<line x1="258" y1="142.5" x2="261.5" y2="142.5" stroke="#000" stroke-width="1.0" />
<line x1="258" y1="107.5" x2="261.5" y2="107.5" stroke="#000" stroke-width="1.0" />
<line x1="258" y1="72.5" x2="261.5" y2="72.5" stroke="#000" stroke-width="1.0" />
<line x1="258" y1="37.5" x2="261.5" y2="37.5" stroke="#000" stroke-width="1.0" />
<line x1="258" y1="2.5" x2="261.5" y2="2.5" stroke="#000" stroke-width="1.0" />
<line x1="259" y1="125" x2="261.5" y2="125" stroke="#000" stroke-width="1.0" />
<line x1="259" y1="90" x2="261.5" y2="90" stroke="#000" stroke-width="1.0" />
<line x1="259" y1="55" x2="261.5" y2="55" stroke="#000" stroke-width="1.0" />
<line x1="259" y1="20" x2="261.5" y2="20" stroke="#000" stroke-width="1.0" />
<line x1="261.5" y1="142.5" x2="261.5" y2="146" stroke="#000" stroke-width="1.0" />
<line x1="298.9" y1="142.5" x2="298.9" y2="146" stroke="#000" stroke-width="1.0" />
<line x1="336.3" y1="142.5" x2="336.3" y2="146" stroke="#000" stroke-width="1.0" />
<line x1="373.7" y1="142.5" x2="373.7" y2="146" stroke="#000" stroke-width="1.0" />
<line x1="411.1" y1="142.5" x2="411.1" y2="146" stroke="#000" stroke-width="1.0" />
<line x1="448.5" y1="142.5" x2="448.5" y2="146" stroke="#000" stroke-width="1.0" />
<line x1="280.2" y1="142.5" x2="280.2" y2="145" stroke="#000" stroke-width="1.0" />
<line x1="317.6" y1="142.5" x2="317.6" y2="145" stroke="#000" stroke-width="1.0" />
<line x1="355" y1="142.5" x2="355" y2="145" stroke="#000" stroke-width="1.0" />
<line x1="392.4" y1="142.5" x2="392.4" y2="145" stroke="#000" stroke-width="1.0" />
<line x1="429.8" y1="142.5" x2="429.8" y2="145" stroke="#000" stroke-width="1.0" />
<text x="257.1" y="146.3" font-size="9.5" text-anchor="end" fill="#111" stroke="#111" >0</text>
<text x="257.1" y="111.3" font-size="9.5" text-anchor="end" fill="#111" stroke="#111" >20</text>
<text x="257.1" y="76.3" font-size="9.5" text-anchor="end" fill="#111" stroke="#111" >40</text>
<text x="257.1" y="41.3" font-size="9.5" text-anchor="end" fill="#111" stroke="#111" >60</text>
<text x="257.1" y="6.3" font-size="9.5" text-anchor="end" fill="#111" stroke="#111" >80</text>
<text x="261.2" y="155.4" font-size="9.5" text-anchor="middle" fill="#111" stroke="#111" >0</text>
<text x="298.6" y="155.4" font-size="9.5" text-anchor="middle" fill="#111" stroke="#111" >0.2</text>
<text x="336" y="155.4" font-size="9.5" text-anchor="middle" fill="#111" stroke="#111" >0.4</text>
<text x="373.4" y="155.4" font-size="9.5" text-anchor="middle" fill="#111" stroke="#111" >0.6</text>
<text x="410.8" y="155.4" font-size="9.5" text-anchor="middle" fill="#111" stroke="#111" >0.8</text>
<text x="448.2" y="155.4" font-size="9.5" text-anchor="middle" fill="#111" stroke="#111" >1.0</text>
<circle cx="266.1" cy="7.4" r="2.6" fill="#ffb3bc"/>
<text x="270.5" y="10.4" font-size="8.4" text-anchor="start" fill="#111" stroke="#111" >273 K</text>
<circle cx="266.1" cy="16.1" r="2.6" fill="#ff7b88"/>
<text x="270.5" y="19.1" font-size="8.4" text-anchor="start" fill="#111" stroke="#111" >283 K</text>
<circle cx="266.1" cy="24.8" r="2.6" fill="#ff2a3a"/>
<text x="270.5" y="27.8" font-size="8.4" text-anchor="start" fill="#111" stroke="#111" >298 K</text>
<circle cx="303.6" cy="7.4" r="2.6" fill="#d20a0e"/>
<text x="308" y="10.4" font-size="8.4" text-anchor="start" fill="#111" stroke="#111" >303 K</text>
<circle cx="303.6" cy="16.1" r="2.6" fill="#940b0b"/>
<text x="308" y="19.1" font-size="8.4" text-anchor="start" fill="#111" stroke="#111" >313 K</text>
<circle cx="303.6" cy="24.8" r="2.6" fill="#4e0808"/>
<text x="308" y="27.8" font-size="8.4" text-anchor="start" fill="#111" stroke="#111" >323 K</text>
<text x="344.7" y="10.4" font-size="8.4" text-anchor="start" fill="#111" stroke="#111" >C<tspan dy="2.8" font-size="6.3">3</tspan><tspan dy="-2.8">​</tspan>H<tspan dy="2.8" font-size="6.3">6</tspan><tspan dy="-2.8">​</tspan></text>
<text transform="translate(241.7,72.4) rotate(-90)" font-size="9" text-anchor="middle" fill="#111" stroke="#111">Uptake (cm<tspan dy="-3.2" font-size="6">3</tspan><tspan dy="3.2"> </tspan>(STP) g<tspan dy="-3.2" font-size="6">−1</tspan><tspan dy="3.2"></tspan>)</text>
<text x="353" y="165.6" font-size="9" text-anchor="middle" fill="#111" stroke="#111" >Pressure (bar)</text>
<text x="459.9" y="6.6" font-size="10.5" text-anchor="start" fill="#000" stroke="#000" font-weight="bold" stroke-width="0.45">c</text>
<circle cx="491.25" cy="138.6" r="2.35" fill="#d7f6b4" />
<circle cx="494.75" cy="132.25" r="2.35" fill="#d7f6b4" />
<circle cx="498.85" cy="129.83" r="2.35" fill="#d7f6b4" />
<circle cx="502.96" cy="127.39" r="2.35" fill="#d7f6b4" />
<circle cx="507.07" cy="124.13" r="2.35" fill="#d7f6b4" />
<circle cx="509.47" cy="115.45" r="2.35" fill="#d7f6b4" />
<circle cx="510.17" cy="106.46" r="2.35" fill="#d7f6b4" />
<circle cx="510.7" cy="97.47" r="2.35" fill="#d7f6b4" />
<circle cx="511.1" cy="88.39" r="2.35" fill="#d7f6b4" />
<circle cx="512.32" cy="79.25" r="2.35" fill="#d7f6b4" />
<circle cx="514.52" cy="70.51" r="2.35" fill="#d7f6b4" />
<circle cx="518.62" cy="62.73" r="2.35" fill="#d7f6b4" />
<circle cx="522.73" cy="58.82" r="2.35" fill="#d7f6b4" />
<circle cx="526.84" cy="56.14" r="2.35" fill="#d7f6b4" />
<circle cx="530.95" cy="54.02" r="2.35" fill="#d7f6b4" />
<circle cx="535.05" cy="52.45" r="2.35" fill="#d7f6b4" />
<circle cx="539.16" cy="51.14" r="2.35" fill="#d7f6b4" />
<circle cx="543.27" cy="50.01" r="2.35" fill="#d7f6b4" />
<circle cx="547.37" cy="49" r="2.35" fill="#d7f6b4" />
<circle cx="551.48" cy="48.02" r="2.35" fill="#d7f6b4" />
<circle cx="555.59" cy="47.09" r="2.35" fill="#d7f6b4" />
<circle cx="559.69" cy="46.25" r="2.35" fill="#d7f6b4" />
<circle cx="563.8" cy="45.47" r="2.35" fill="#d7f6b4" />
<circle cx="567.91" cy="44.73" r="2.35" fill="#d7f6b4" />
<circle cx="572.01" cy="44.02" r="2.35" fill="#d7f6b4" />
<circle cx="576.12" cy="43.36" r="2.35" fill="#d7f6b4" />
<circle cx="580.23" cy="42.75" r="2.35" fill="#d7f6b4" />
<circle cx="584.34" cy="42.18" r="2.35" fill="#d7f6b4" />
<circle cx="588.44" cy="41.65" r="2.35" fill="#d7f6b4" />
<circle cx="592.55" cy="41.13" r="2.35" fill="#d7f6b4" />
<circle cx="596.66" cy="40.63" r="2.35" fill="#d7f6b4" />
<circle cx="600.76" cy="40.15" r="2.35" fill="#d7f6b4" />
<circle cx="604.87" cy="39.7" r="2.35" fill="#d7f6b4" />
<circle cx="608.98" cy="39.26" r="2.35" fill="#d7f6b4" />
<circle cx="613.08" cy="38.86" r="2.35" fill="#d7f6b4" />
<circle cx="617.19" cy="38.48" r="2.35" fill="#d7f6b4" />
<circle cx="621.3" cy="38.14" r="2.35" fill="#d7f6b4" />
<circle cx="625.4" cy="37.83" r="2.35" fill="#d7f6b4" />
<circle cx="629.51" cy="37.56" r="2.35" fill="#d7f6b4" />
<circle cx="633.62" cy="37.31" r="2.35" fill="#d7f6b4" />
<circle cx="637.73" cy="37.09" r="2.35" fill="#d7f6b4" />
<circle cx="641.83" cy="36.88" r="2.35" fill="#d7f6b4" />
<circle cx="645.94" cy="36.69" r="2.35" fill="#d7f6b4" />
<circle cx="650.05" cy="36.5" r="2.35" fill="#d7f6b4" />
<circle cx="654.15" cy="36.31" r="2.35" fill="#d7f6b4" />
<circle cx="658.26" cy="36.11" r="2.35" fill="#d7f6b4" />
<circle cx="662.37" cy="35.9" r="2.35" fill="#d7f6b4" />
<circle cx="666.47" cy="35.67" r="2.35" fill="#d7f6b4" />
<circle cx="670.58" cy="35.41" r="2.35" fill="#d7f6b4" />
<circle cx="676.57" cy="34.95" r="2.35" fill="#d7f6b4" />
<circle cx="491.25" cy="139.16" r="2.35" fill="#b6f08c" />
<circle cx="494.3" cy="133.91" r="2.35" fill="#b6f08c" />
<circle cx="498.4" cy="132.49" r="2.35" fill="#b6f08c" />
<circle cx="502.51" cy="131.01" r="2.35" fill="#b6f08c" />
<circle cx="506.62" cy="129.56" r="2.35" fill="#b6f08c" />
<circle cx="510.72" cy="127.72" r="2.35" fill="#b6f08c" />
<circle cx="514.83" cy="125.67" r="2.35" fill="#b6f08c" />
<circle cx="518.94" cy="123.03" r="2.35" fill="#b6f08c" />
<circle cx="522.25" cy="114.66" r="2.35" fill="#b6f08c" />
<circle cx="523.66" cy="105.75" r="2.35" fill="#b6f08c" />
<circle cx="524.51" cy="96.78" r="2.35" fill="#b6f08c" />
<circle cx="525.36" cy="87.76" r="2.35" fill="#b6f08c" />
<circle cx="527.52" cy="79" r="2.35" fill="#b6f08c" />
<circle cx="530.95" cy="70.66" r="2.35" fill="#b6f08c" />
<circle cx="535.05" cy="65.97" r="2.35" fill="#b6f08c" />
<circle cx="539.16" cy="62.93" r="2.35" fill="#b6f08c" />
<circle cx="543.27" cy="60.74" r="2.35" fill="#b6f08c" />
<circle cx="547.37" cy="58.4" r="2.35" fill="#b6f08c" />
<circle cx="551.48" cy="56.74" r="2.35" fill="#b6f08c" />
<circle cx="555.59" cy="55.29" r="2.35" fill="#b6f08c" />
<circle cx="559.69" cy="54.11" r="2.35" fill="#b6f08c" />
<circle cx="563.8" cy="53.14" r="2.35" fill="#b6f08c" />
<circle cx="567.91" cy="52.28" r="2.35" fill="#b6f08c" />
<circle cx="572.01" cy="51.5" r="2.35" fill="#b6f08c" />
<circle cx="576.12" cy="50.76" r="2.35" fill="#b6f08c" />
<circle cx="580.23" cy="50.05" r="2.35" fill="#b6f08c" />
<circle cx="584.34" cy="49.34" r="2.35" fill="#b6f08c" />
<circle cx="588.44" cy="48.61" r="2.35" fill="#b6f08c" />
<circle cx="592.55" cy="47.87" r="2.35" fill="#b6f08c" />
<circle cx="596.66" cy="47.13" r="2.35" fill="#b6f08c" />
<circle cx="600.76" cy="46.41" r="2.35" fill="#b6f08c" />
<circle cx="604.87" cy="45.7" r="2.35" fill="#b6f08c" />
<circle cx="608.98" cy="45.04" r="2.35" fill="#b6f08c" />
<circle cx="613.08" cy="44.41" r="2.35" fill="#b6f08c" />
<circle cx="617.19" cy="43.84" r="2.35" fill="#b6f08c" />
<circle cx="621.3" cy="43.33" r="2.35" fill="#b6f08c" />
<circle cx="625.4" cy="42.9" r="2.35" fill="#b6f08c" />
<circle cx="629.51" cy="42.52" r="2.35" fill="#b6f08c" />
<circle cx="633.62" cy="42.17" r="2.35" fill="#b6f08c" />
<circle cx="637.73" cy="41.84" r="2.35" fill="#b6f08c" />
<circle cx="641.83" cy="41.54" r="2.35" fill="#b6f08c" />
<circle cx="645.94" cy="41.26" r="2.35" fill="#b6f08c" />
<circle cx="650.05" cy="40.99" r="2.35" fill="#b6f08c" />
<circle cx="654.15" cy="40.74" r="2.35" fill="#b6f08c" />
<circle cx="658.26" cy="40.49" r="2.35" fill="#b6f08c" />
<circle cx="662.37" cy="40.25" r="2.35" fill="#b6f08c" />
<circle cx="666.47" cy="40.02" r="2.35" fill="#b6f08c" />
<circle cx="670.58" cy="39.79" r="2.35" fill="#b6f08c" />
<circle cx="676.57" cy="39.47" r="2.35" fill="#b6f08c" />
<circle cx="491.25" cy="139.93" r="2.35" fill="#8eea4c" />
<circle cx="495.2" cy="135.45" r="2.35" fill="#8eea4c" />
<circle cx="499.31" cy="134.08" r="2.35" fill="#8eea4c" />
<circle cx="503.42" cy="132.82" r="2.35" fill="#8eea4c" />
<circle cx="507.52" cy="131.83" r="2.35" fill="#8eea4c" />
<circle cx="511.63" cy="131.12" r="2.35" fill="#8eea4c" />
<circle cx="515.74" cy="130.57" r="2.35" fill="#8eea4c" />
<circle cx="519.84" cy="130.09" r="2.35" fill="#8eea4c" />
<circle cx="523.95" cy="129.6" r="2.35" fill="#8eea4c" />
<circle cx="528.06" cy="129.09" r="2.35" fill="#8eea4c" />
<circle cx="532.16" cy="128.61" r="2.35" fill="#8eea4c" />
<circle cx="536.27" cy="128.12" r="2.35" fill="#8eea4c" />
<circle cx="540.38" cy="127.59" r="2.35" fill="#8eea4c" />
<circle cx="544.49" cy="126.99" r="2.35" fill="#8eea4c" />
<circle cx="548.59" cy="126.28" r="2.35" fill="#8eea4c" />
<circle cx="552.7" cy="125.42" r="2.35" fill="#8eea4c" />
<circle cx="556.81" cy="124.36" r="2.35" fill="#8eea4c" />
<circle cx="560.91" cy="123.02" r="2.35" fill="#8eea4c" />
<circle cx="565.02" cy="121.09" r="2.35" fill="#8eea4c" />
<circle cx="569.13" cy="117.55" r="2.35" fill="#8eea4c" />
<circle cx="572.53" cy="109.21" r="2.35" fill="#8eea4c" />
<circle cx="574.11" cy="100.33" r="2.35" fill="#8eea4c" />
<circle cx="576.4" cy="91.6" r="2.35" fill="#8eea4c" />
<circle cx="580.23" cy="83.42" r="2.35" fill="#8eea4c" />
<circle cx="584.34" cy="77.61" r="2.35" fill="#8eea4c" />
<circle cx="588.44" cy="74.7" r="2.35" fill="#8eea4c" />
<circle cx="592.55" cy="71.54" r="2.35" fill="#8eea4c" />
<circle cx="596.66" cy="69.07" r="2.35" fill="#8eea4c" />
<circle cx="600.76" cy="67.01" r="2.35" fill="#8eea4c" />
<circle cx="604.87" cy="65.31" r="2.35" fill="#8eea4c" />
<circle cx="608.98" cy="63.84" r="2.35" fill="#8eea4c" />
<circle cx="613.08" cy="62.58" r="2.35" fill="#8eea4c" />
<circle cx="617.19" cy="61.45" r="2.35" fill="#8eea4c" />
<circle cx="621.3" cy="60.46" r="2.35" fill="#8eea4c" />
<circle cx="625.4" cy="59.6" r="2.35" fill="#8eea4c" />
<circle cx="629.51" cy="58.89" r="2.35" fill="#8eea4c" />
<circle cx="633.62" cy="58.26" r="2.35" fill="#8eea4c" />
<circle cx="637.73" cy="57.64" r="2.35" fill="#8eea4c" />
<circle cx="641.83" cy="57" r="2.35" fill="#8eea4c" />
<circle cx="645.94" cy="56.34" r="2.35" fill="#8eea4c" />
<circle cx="650.05" cy="55.69" r="2.35" fill="#8eea4c" />
<circle cx="654.15" cy="55.04" r="2.35" fill="#8eea4c" />
<circle cx="658.26" cy="54.4" r="2.35" fill="#8eea4c" />
<circle cx="662.37" cy="53.77" r="2.35" fill="#8eea4c" />
<circle cx="666.47" cy="53.16" r="2.35" fill="#8eea4c" />
<circle cx="670.58" cy="52.58" r="2.35" fill="#8eea4c" />
<circle cx="676.57" cy="51.79" r="2.35" fill="#8eea4c" />
<circle cx="491.25" cy="140.27" r="2.35" fill="#58d816" />
<circle cx="495.31" cy="136.12" r="2.35" fill="#58d816" />
<circle cx="499.42" cy="134.74" r="2.35" fill="#58d816" />
<circle cx="503.52" cy="133.47" r="2.35" fill="#58d816" />
<circle cx="507.63" cy="132.5" r="2.35" fill="#58d816" />
<circle cx="511.74" cy="131.84" r="2.35" fill="#58d816" />
<circle cx="515.84" cy="131.33" r="2.35" fill="#58d816" />
<circle cx="519.95" cy="130.9" r="2.35" fill="#58d816" />
<circle cx="524.06" cy="130.46" r="2.35" fill="#58d816" />
<circle cx="528.17" cy="130.01" r="2.35" fill="#58d816" />
<circle cx="532.27" cy="129.59" r="2.35" fill="#58d816" />
<circle cx="536.38" cy="129.17" r="2.35" fill="#58d816" />
<circle cx="540.49" cy="128.72" r="2.35" fill="#58d816" />
<circle cx="544.59" cy="128.2" r="2.35" fill="#58d816" />
<circle cx="548.7" cy="127.57" r="2.35" fill="#58d816" />
<circle cx="552.81" cy="126.86" r="2.35" fill="#58d816" />
<circle cx="556.91" cy="126.07" r="2.35" fill="#58d816" />
<circle cx="561.02" cy="125.2" r="2.35" fill="#58d816" />
<circle cx="565.13" cy="124.27" r="2.35" fill="#58d816" />
<circle cx="569.23" cy="123.28" r="2.35" fill="#58d816" />
<circle cx="573.34" cy="122.26" r="2.35" fill="#58d816" />
<circle cx="577.45" cy="121.12" r="2.35" fill="#58d816" />
<circle cx="581.56" cy="119.18" r="2.35" fill="#58d816" />
<circle cx="585.66" cy="115.74" r="2.35" fill="#58d816" />
<circle cx="589.77" cy="111.12" r="2.35" fill="#58d816" />
<circle cx="593.88" cy="103.54" r="2.35" fill="#58d816" />
<circle cx="597.21" cy="95.16" r="2.35" fill="#58d816" />
<circle cx="600.76" cy="86.87" r="2.35" fill="#58d816" />
<circle cx="604.87" cy="80.77" r="2.35" fill="#58d816" />
<circle cx="608.98" cy="77.21" r="2.35" fill="#58d816" />
<circle cx="613.08" cy="74.68" r="2.35" fill="#58d816" />
<circle cx="617.19" cy="72.8" r="2.35" fill="#58d816" />
<circle cx="621.3" cy="71.29" r="2.35" fill="#58d816" />
<circle cx="625.4" cy="69.92" r="2.35" fill="#58d816" />
<circle cx="629.51" cy="68.63" r="2.35" fill="#58d816" />
<circle cx="633.62" cy="67.43" r="2.35" fill="#58d816" />
<circle cx="637.73" cy="66.34" r="2.35" fill="#58d816" />
<circle cx="641.83" cy="65.34" r="2.35" fill="#58d816" />
<circle cx="645.94" cy="64.41" r="2.35" fill="#58d816" />
<circle cx="650.05" cy="63.54" r="2.35" fill="#58d816" />
<circle cx="654.15" cy="62.71" r="2.35" fill="#58d816" />
<circle cx="658.26" cy="61.91" r="2.35" fill="#58d816" />
<circle cx="662.37" cy="61.13" r="2.35" fill="#58d816" />
<circle cx="666.47" cy="60.36" r="2.35" fill="#58d816" />
<circle cx="670.58" cy="59.59" r="2.35" fill="#58d816" />
<circle cx="676.57" cy="58.49" r="2.35" fill="#58d816" />
<circle cx="491.25" cy="141.56" r="2.35" fill="#2f8e10" />
<circle cx="493.98" cy="140.13" r="2.35" fill="#2f8e10" />
<circle cx="498.09" cy="139.62" r="2.35" fill="#2f8e10" />
<circle cx="502.2" cy="139.35" r="2.35" fill="#2f8e10" />
<circle cx="506.3" cy="139.15" r="2.35" fill="#2f8e10" />
<circle cx="510.41" cy="138.85" r="2.35" fill="#2f8e10" />
<circle cx="514.52" cy="138.53" r="2.35" fill="#2f8e10" />
<circle cx="518.62" cy="138.22" r="2.35" fill="#2f8e10" />
<circle cx="522.73" cy="137.93" r="2.35" fill="#2f8e10" />
<circle cx="526.84" cy="137.67" r="2.35" fill="#2f8e10" />
<circle cx="530.95" cy="137.42" r="2.35" fill="#2f8e10" />
<circle cx="535.05" cy="137.2" r="2.35" fill="#2f8e10" />
<circle cx="539.16" cy="136.99" r="2.35" fill="#2f8e10" />
<circle cx="543.27" cy="136.79" r="2.35" fill="#2f8e10" />
<circle cx="547.37" cy="136.6" r="2.35" fill="#2f8e10" />
<circle cx="551.48" cy="136.41" r="2.35" fill="#2f8e10" />
<circle cx="555.59" cy="136.21" r="2.35" fill="#2f8e10" />
<circle cx="559.69" cy="135.99" r="2.35" fill="#2f8e10" />
<circle cx="563.8" cy="135.76" r="2.35" fill="#2f8e10" />
<circle cx="567.91" cy="135.51" r="2.35" fill="#2f8e10" />
<circle cx="572.01" cy="135.25" r="2.35" fill="#2f8e10" />
<circle cx="576.12" cy="134.97" r="2.35" fill="#2f8e10" />
<circle cx="580.23" cy="134.68" r="2.35" fill="#2f8e10" />
<circle cx="584.34" cy="134.37" r="2.35" fill="#2f8e10" />
<circle cx="588.44" cy="134.06" r="2.35" fill="#2f8e10" />
<circle cx="592.55" cy="133.74" r="2.35" fill="#2f8e10" />
<circle cx="596.66" cy="133.4" r="2.35" fill="#2f8e10" />
<circle cx="600.76" cy="133.06" r="2.35" fill="#2f8e10" />
<circle cx="604.87" cy="132.7" r="2.35" fill="#2f8e10" />
<circle cx="608.98" cy="132.34" r="2.35" fill="#2f8e10" />
<circle cx="613.08" cy="131.95" r="2.35" fill="#2f8e10" />
<circle cx="617.19" cy="131.54" r="2.35" fill="#2f8e10" />
<circle cx="621.3" cy="131.09" r="2.35" fill="#2f8e10" />
<circle cx="625.4" cy="130.59" r="2.35" fill="#2f8e10" />
<circle cx="629.51" cy="130.03" r="2.35" fill="#2f8e10" />
<circle cx="633.62" cy="129.43" r="2.35" fill="#2f8e10" />
<circle cx="637.73" cy="128.81" r="2.35" fill="#2f8e10" />
<circle cx="641.83" cy="128.19" r="2.35" fill="#2f8e10" />
<circle cx="645.94" cy="127.51" r="2.35" fill="#2f8e10" />
<circle cx="650.05" cy="126.79" r="2.35" fill="#2f8e10" />
<circle cx="654.15" cy="125.87" r="2.35" fill="#2f8e10" />
<circle cx="658.26" cy="124.1" r="2.35" fill="#2f8e10" />
<circle cx="662.37" cy="122.47" r="2.35" fill="#2f8e10" />
<circle cx="666.47" cy="119.22" r="2.35" fill="#2f8e10" />
<circle cx="670.58" cy="115.24" r="2.35" fill="#2f8e10" />
<circle cx="676.57" cy="108.62" r="2.35" fill="#2f8e10" />
<circle cx="491.25" cy="141.81" r="2.35" fill="#1b5a09" />
<circle cx="493.98" cy="140.64" r="2.35" fill="#1b5a09" />
<circle cx="498.09" cy="140.07" r="2.35" fill="#1b5a09" />
<circle cx="502.2" cy="139.74" r="2.35" fill="#1b5a09" />
<circle cx="506.3" cy="139.5" r="2.35" fill="#1b5a09" />
<circle cx="510.41" cy="139.2" r="2.35" fill="#1b5a09" />
<circle cx="514.52" cy="138.92" r="2.35" fill="#1b5a09" />
<circle cx="518.62" cy="138.66" r="2.35" fill="#1b5a09" />
<circle cx="522.73" cy="138.42" r="2.35" fill="#1b5a09" />
<circle cx="526.84" cy="138.19" r="2.35" fill="#1b5a09" />
<circle cx="530.95" cy="137.95" r="2.35" fill="#1b5a09" />
<circle cx="535.05" cy="137.73" r="2.35" fill="#1b5a09" />
<circle cx="539.16" cy="137.51" r="2.35" fill="#1b5a09" />
<circle cx="543.27" cy="137.3" r="2.35" fill="#1b5a09" />
<circle cx="547.37" cy="137.1" r="2.35" fill="#1b5a09" />
<circle cx="551.48" cy="136.89" r="2.35" fill="#1b5a09" />
<circle cx="555.59" cy="136.69" r="2.35" fill="#1b5a09" />
<circle cx="559.69" cy="136.48" r="2.35" fill="#1b5a09" />
<circle cx="563.8" cy="136.28" r="2.35" fill="#1b5a09" />
<circle cx="567.91" cy="136.06" r="2.35" fill="#1b5a09" />
<circle cx="572.01" cy="135.85" r="2.35" fill="#1b5a09" />
<circle cx="576.12" cy="135.62" r="2.35" fill="#1b5a09" />
<circle cx="580.23" cy="135.4" r="2.35" fill="#1b5a09" />
<circle cx="584.34" cy="135.18" r="2.35" fill="#1b5a09" />
<circle cx="588.44" cy="134.96" r="2.35" fill="#1b5a09" />
<circle cx="592.55" cy="134.75" r="2.35" fill="#1b5a09" />
<circle cx="596.66" cy="134.55" r="2.35" fill="#1b5a09" />
<circle cx="600.76" cy="134.36" r="2.35" fill="#1b5a09" />
<circle cx="604.87" cy="134.18" r="2.35" fill="#1b5a09" />
<circle cx="608.98" cy="134.02" r="2.35" fill="#1b5a09" />
<circle cx="613.08" cy="133.86" r="2.35" fill="#1b5a09" />
<circle cx="617.19" cy="133.7" r="2.35" fill="#1b5a09" />
<circle cx="621.3" cy="133.56" r="2.35" fill="#1b5a09" />
<circle cx="625.4" cy="133.41" r="2.35" fill="#1b5a09" />
<circle cx="629.51" cy="133.27" r="2.35" fill="#1b5a09" />
<circle cx="633.62" cy="133.12" r="2.35" fill="#1b5a09" />
<circle cx="637.73" cy="132.97" r="2.35" fill="#1b5a09" />
<circle cx="641.83" cy="132.81" r="2.35" fill="#1b5a09" />
<circle cx="645.94" cy="132.65" r="2.35" fill="#1b5a09" />
<circle cx="650.05" cy="132.48" r="2.35" fill="#1b5a09" />
<circle cx="654.15" cy="132.32" r="2.35" fill="#1b5a09" />
<circle cx="658.26" cy="132.15" r="2.35" fill="#1b5a09" />
<circle cx="662.37" cy="132.01" r="2.35" fill="#1b5a09" />
<circle cx="666.47" cy="131.87" r="2.35" fill="#1b5a09" />
<circle cx="670.58" cy="131.67" r="2.35" fill="#1b5a09" />
<circle cx="676.57" cy="131.07" r="2.35" fill="#1b5a09" />
<line x1="490.5" y1="2.2" x2="490.5" y2="143" stroke="#000" stroke-width="1.0" />
<line x1="490" y1="142.5" x2="681.7" y2="142.5" stroke="#000" stroke-width="1.0" />
<line x1="487" y1="142.5" x2="490.5" y2="142.5" stroke="#000" stroke-width="1.0" />
<line x1="487" y1="107.5" x2="490.5" y2="107.5" stroke="#000" stroke-width="1.0" />
<line x1="487" y1="72.5" x2="490.5" y2="72.5" stroke="#000" stroke-width="1.0" />
<line x1="487" y1="37.5" x2="490.5" y2="37.5" stroke="#000" stroke-width="1.0" />
<line x1="487" y1="2.5" x2="490.5" y2="2.5" stroke="#000" stroke-width="1.0" />
<line x1="488" y1="125" x2="490.5" y2="125" stroke="#000" stroke-width="1.0" />
<line x1="488" y1="90" x2="490.5" y2="90" stroke="#000" stroke-width="1.0" />
<line x1="488" y1="55" x2="490.5" y2="55" stroke="#000" stroke-width="1.0" />
<line x1="488" y1="20" x2="490.5" y2="20" stroke="#000" stroke-width="1.0" />
<line x1="490.5" y1="142.5" x2="490.5" y2="146" stroke="#000" stroke-width="1.0" />
<line x1="527.9" y1="142.5" x2="527.9" y2="146" stroke="#000" stroke-width="1.0" />
<line x1="565.3" y1="142.5" x2="565.3" y2="146" stroke="#000" stroke-width="1.0" />
<line x1="602.7" y1="142.5" x2="602.7" y2="146" stroke="#000" stroke-width="1.0" />
<line x1="640.1" y1="142.5" x2="640.1" y2="146" stroke="#000" stroke-width="1.0" />
<line x1="677.5" y1="142.5" x2="677.5" y2="146" stroke="#000" stroke-width="1.0" />
<line x1="509.2" y1="142.5" x2="509.2" y2="145" stroke="#000" stroke-width="1.0" />
<line x1="546.6" y1="142.5" x2="546.6" y2="145" stroke="#000" stroke-width="1.0" />
<line x1="584" y1="142.5" x2="584" y2="145" stroke="#000" stroke-width="1.0" />
<line x1="621.4" y1="142.5" x2="621.4" y2="145" stroke="#000" stroke-width="1.0" />
<line x1="658.8" y1="142.5" x2="658.8" y2="145" stroke="#000" stroke-width="1.0" />
<text x="486.1" y="146.3" font-size="9.5" text-anchor="end" fill="#111" stroke="#111" >0</text>
<text x="486.1" y="111.3" font-size="9.5" text-anchor="end" fill="#111" stroke="#111" >20</text>
<text x="486.1" y="76.3" font-size="9.5" text-anchor="end" fill="#111" stroke="#111" >40</text>
<text x="486.1" y="41.3" font-size="9.5" text-anchor="end" fill="#111" stroke="#111" >60</text>
<text x="486.1" y="6.3" font-size="9.5" text-anchor="end" fill="#111" stroke="#111" >80</text>
<text x="490.2" y="155.4" font-size="9.5" text-anchor="middle" fill="#111" stroke="#111" >0</text>
<text x="527.6" y="155.4" font-size="9.5" text-anchor="middle" fill="#111" stroke="#111" >0.2</text>
<text x="565" y="155.4" font-size="9.5" text-anchor="middle" fill="#111" stroke="#111" >0.4</text>
<text x="602.4" y="155.4" font-size="9.5" text-anchor="middle" fill="#111" stroke="#111" >0.6</text>
<text x="639.8" y="155.4" font-size="9.5" text-anchor="middle" fill="#111" stroke="#111" >0.8</text>
<text x="677.2" y="155.4" font-size="9.5" text-anchor="middle" fill="#111" stroke="#111" >1.0</text>
<circle cx="498.7" cy="7.4" r="2.6" fill="#d7f6b4"/>
<text x="503.1" y="10.4" font-size="8.4" text-anchor="start" fill="#111" stroke="#111" >273 K</text>
<circle cx="498.7" cy="16.1" r="2.6" fill="#b6f08c"/>
<text x="503.1" y="19.1" font-size="8.4" text-anchor="start" fill="#111" stroke="#111" >283 K</text>
<circle cx="498.7" cy="24.8" r="2.6" fill="#8eea4c"/>
<text x="503.1" y="27.8" font-size="8.4" text-anchor="start" fill="#111" stroke="#111" >298 K</text>
<circle cx="536.2" cy="7.4" r="2.6" fill="#58d816"/>
<text x="540.6" y="10.4" font-size="8.4" text-anchor="start" fill="#111" stroke="#111" >303 K</text>
<circle cx="536.2" cy="16.1" r="2.6" fill="#2f8e10"/>
<text x="540.6" y="19.1" font-size="8.4" text-anchor="start" fill="#111" stroke="#111" >313 K</text>
<circle cx="536.2" cy="24.8" r="2.6" fill="#1b5a09"/>
<text x="540.6" y="27.8" font-size="8.4" text-anchor="start" fill="#111" stroke="#111" >323 K</text>
<text x="576.7" y="10.4" font-size="8.4" text-anchor="start" fill="#111" stroke="#111" >C<tspan dy="2.8" font-size="6.3">3</tspan><tspan dy="-2.8">​</tspan>H<tspan dy="2.8" font-size="6.3">8</tspan><tspan dy="-2.8">​</tspan></text>
<text transform="translate(470.7,72.4) rotate(-90)" font-size="9" text-anchor="middle" fill="#111" stroke="#111">Uptake (cm<tspan dy="-3.2" font-size="6">3</tspan><tspan dy="3.2"> </tspan>(STP) g<tspan dy="-3.2" font-size="6">−1</tspan><tspan dy="3.2"></tspan>)</text>
<text x="582" y="165.6" font-size="9" text-anchor="middle" fill="#111" stroke="#111" >Pressure (bar)</text>
<text x="0.8" y="176.6" font-size="10.5" text-anchor="start" fill="#000" stroke="#000" font-weight="bold" stroke-width="0.45">d</text>
<defs>
<radialGradient id="gO" cx="0.38" cy="0.35" r="0.7"><stop offset="0" stop-color="#ffd9a8"/><stop offset="0.35" stop-color="#ff8c1a"/><stop offset="1" stop-color="#e06a00"/></radialGradient>
<radialGradient id="gR" cx="0.38" cy="0.35" r="0.7"><stop offset="0" stop-color="#f5a0a0"/><stop offset="0.35" stop-color="#d41414"/><stop offset="1" stop-color="#a80000"/></radialGradient>
<radialGradient id="gG" cx="0.38" cy="0.35" r="0.7"><stop offset="0" stop-color="#c8f0a8"/><stop offset="0.35" stop-color="#44bb12"/><stop offset="1" stop-color="#2c8e05"/></radialGradient>
</defs>
<circle cx="32.4" cy="313.99" r="2.6" fill="url(#gG)"/>
<circle cx="37" cy="311.55" r="2.6" fill="url(#gG)"/>
<circle cx="41.61" cy="310.16" r="2.6" fill="url(#gG)"/>
<circle cx="46.21" cy="309.05" r="2.6" fill="url(#gG)"/>
<circle cx="50.81" cy="307.8" r="2.6" fill="url(#gG)"/>
<circle cx="55.42" cy="307.04" r="2.6" fill="url(#gG)"/>
<circle cx="60.02" cy="306.45" r="2.6" fill="url(#gG)"/>
<circle cx="64.62" cy="305.96" r="2.6" fill="url(#gG)"/>
<circle cx="69.23" cy="305.59" r="2.6" fill="url(#gG)"/>
<circle cx="73.83" cy="305.14" r="2.6" fill="url(#gG)"/>
<circle cx="78.43" cy="304.28" r="2.6" fill="url(#gG)"/>
<circle cx="83.04" cy="303.16" r="2.6" fill="url(#gG)"/>
<circle cx="87.64" cy="302.59" r="2.6" fill="url(#gG)"/>
<circle cx="92.24" cy="302.06" r="2.6" fill="url(#gG)"/>
<circle cx="96.85" cy="301.34" r="2.6" fill="url(#gG)"/>
<circle cx="101.45" cy="300.46" r="2.6" fill="url(#gG)"/>
<circle cx="106.05" cy="299.3" r="2.6" fill="url(#gG)"/>
<circle cx="110.66" cy="298.03" r="2.6" fill="url(#gG)"/>
<circle cx="115.26" cy="296.86" r="2.6" fill="url(#gG)"/>
<circle cx="119.86" cy="295.44" r="2.6" fill="url(#gG)"/>
<circle cx="124.47" cy="293.28" r="2.6" fill="url(#gG)"/>
<circle cx="128.9" cy="290" r="2.6" fill="url(#gG)"/>
<circle cx="132.71" cy="286.02" r="2.6" fill="url(#gG)"/>
<circle cx="135.69" cy="281.4" r="2.6" fill="url(#gG)"/>
<circle cx="137.61" cy="276.24" r="2.6" fill="url(#gG)"/>
<circle cx="139.4" cy="271.01" r="2.6" fill="url(#gG)"/>
<circle cx="141.48" cy="265.9" r="2.6" fill="url(#gG)"/>
<circle cx="144.36" cy="261.19" r="2.6" fill="url(#gG)"/>
<circle cx="147.84" cy="256.93" r="2.6" fill="url(#gG)"/>
<circle cx="151.55" cy="252.86" r="2.6" fill="url(#gG)"/>
<circle cx="155.74" cy="249.28" r="2.6" fill="url(#gG)"/>
<circle cx="160.34" cy="246.34" r="2.6" fill="url(#gG)"/>
<circle cx="164.95" cy="244.42" r="2.6" fill="url(#gG)"/>
<circle cx="169.55" cy="242.87" r="2.6" fill="url(#gG)"/>
<circle cx="174.15" cy="241.39" r="2.6" fill="url(#gG)"/>
<circle cx="178.76" cy="240.08" r="2.6" fill="url(#gG)"/>
<circle cx="183.36" cy="239.02" r="2.6" fill="url(#gG)"/>
<circle cx="187.96" cy="238.02" r="2.6" fill="url(#gG)"/>
<circle cx="192.57" cy="236.88" r="2.6" fill="url(#gG)"/>
<circle cx="197.17" cy="235.74" r="2.6" fill="url(#gG)"/>
<circle cx="201.77" cy="234.85" r="2.6" fill="url(#gG)"/>
<circle cx="206.38" cy="234.11" r="2.6" fill="url(#gG)"/>
<circle cx="210.98" cy="233.6" r="2.6" fill="url(#gG)"/>
<circle cx="215.58" cy="233.22" r="2.6" fill="url(#gG)"/>
<circle cx="221.65" cy="231.97" r="2.6" fill="url(#gG)"/>
<circle cx="33.35" cy="312.27" r="2.25" fill="#fff" stroke="#44bb12" stroke-width="0.75"/>
<circle cx="39.24" cy="306.85" r="2.25" fill="#fff" stroke="#44bb12" stroke-width="0.75"/>
<circle cx="47.02" cy="304.99" r="2.25" fill="#fff" stroke="#44bb12" stroke-width="0.75"/>
<circle cx="54.88" cy="303.46" r="2.25" fill="#fff" stroke="#44bb12" stroke-width="0.75"/>
<circle cx="62.81" cy="302.4" r="2.25" fill="#fff" stroke="#44bb12" stroke-width="0.75"/>
<circle cx="70.77" cy="301.58" r="2.25" fill="#fff" stroke="#44bb12" stroke-width="0.75"/>
<circle cx="78.72" cy="300.62" r="2.25" fill="#fff" stroke="#44bb12" stroke-width="0.75"/>
<circle cx="86.56" cy="298.98" r="2.25" fill="#fff" stroke="#44bb12" stroke-width="0.75"/>
<circle cx="94.46" cy="297.68" r="2.25" fill="#fff" stroke="#44bb12" stroke-width="0.75"/>
<circle cx="102.33" cy="296.22" r="2.25" fill="#fff" stroke="#44bb12" stroke-width="0.75"/>
<circle cx="110.07" cy="294.17" r="2.25" fill="#fff" stroke="#44bb12" stroke-width="0.75"/>
<circle cx="117.41" cy="290.99" r="2.25" fill="#fff" stroke="#44bb12" stroke-width="0.75"/>
<circle cx="124.03" cy="286.48" r="2.25" fill="#fff" stroke="#44bb12" stroke-width="0.75"/>
<circle cx="129.64" cy="280.77" r="2.25" fill="#fff" stroke="#44bb12" stroke-width="0.75"/>
<circle cx="133.68" cy="273.84" r="2.25" fill="#fff" stroke="#44bb12" stroke-width="0.75"/>
<circle cx="137.32" cy="266.71" r="2.25" fill="#fff" stroke="#44bb12" stroke-width="0.75"/>
<circle cx="141.18" cy="259.7" r="2.25" fill="#fff" stroke="#44bb12" stroke-width="0.75"/>
<circle cx="145.58" cy="253.01" r="2.25" fill="#fff" stroke="#44bb12" stroke-width="0.75"/>
<circle cx="151.97" cy="248.18" r="2.25" fill="#fff" stroke="#44bb12" stroke-width="0.75"/>
<circle cx="158.92" cy="244.22" r="2.25" fill="#fff" stroke="#44bb12" stroke-width="0.75"/>
<circle cx="166.28" cy="241.08" r="2.25" fill="#fff" stroke="#44bb12" stroke-width="0.75"/>
<circle cx="173.94" cy="238.76" r="2.25" fill="#fff" stroke="#44bb12" stroke-width="0.75"/>
<circle cx="181.78" cy="237.15" r="2.25" fill="#fff" stroke="#44bb12" stroke-width="0.75"/>
<circle cx="189.61" cy="235.52" r="2.25" fill="#fff" stroke="#44bb12" stroke-width="0.75"/>
<circle cx="197.42" cy="233.78" r="2.25" fill="#fff" stroke="#44bb12" stroke-width="0.75"/>
<circle cx="205.32" cy="232.45" r="2.25" fill="#fff" stroke="#44bb12" stroke-width="0.75"/>
<circle cx="32.4" cy="314.34" r="2.6" fill="url(#gR)"/>
<circle cx="36.24" cy="310.39" r="2.6" fill="url(#gR)"/>
<circle cx="40.73" cy="307.2" r="2.6" fill="url(#gR)"/>
<circle cx="44.96" cy="303.67" r="2.6" fill="url(#gR)"/>
<circle cx="49.25" cy="300.23" r="2.6" fill="url(#gR)"/>
<circle cx="53.26" cy="296.47" r="2.6" fill="url(#gR)"/>
<circle cx="56.82" cy="292.27" r="2.6" fill="url(#gR)"/>
<circle cx="59.91" cy="287.71" r="2.6" fill="url(#gR)"/>
<circle cx="62.49" cy="282.84" r="2.6" fill="url(#gR)"/>
<circle cx="64.68" cy="277.77" r="2.6" fill="url(#gR)"/>
<circle cx="66.77" cy="272.68" r="2.6" fill="url(#gR)"/>
<circle cx="69.05" cy="267.66" r="2.6" fill="url(#gR)"/>
<circle cx="71.46" cy="262.7" r="2.6" fill="url(#gR)"/>
<circle cx="73.96" cy="257.8" r="2.6" fill="url(#gR)"/>
<circle cx="77.17" cy="253.32" r="2.6" fill="url(#gR)"/>
<circle cx="81" cy="249.36" r="2.6" fill="url(#gR)"/>
<circle cx="84.78" cy="245.37" r="2.6" fill="url(#gR)"/>
<circle cx="89.01" cy="241.86" r="2.6" fill="url(#gR)"/>
<circle cx="93.52" cy="239.16" r="2.6" fill="url(#gR)"/>
<circle cx="98.02" cy="236.8" r="2.6" fill="url(#gR)"/>
<circle cx="102.52" cy="234.74" r="2.6" fill="url(#gR)"/>
<circle cx="107.02" cy="232.88" r="2.6" fill="url(#gR)"/>
<circle cx="111.52" cy="230.76" r="2.6" fill="url(#gR)"/>
<circle cx="116.03" cy="228.95" r="2.6" fill="url(#gR)"/>
<circle cx="120.53" cy="227.62" r="2.6" fill="url(#gR)"/>
<circle cx="125.03" cy="226.35" r="2.6" fill="url(#gR)"/>
<circle cx="129.53" cy="225.03" r="2.6" fill="url(#gR)"/>
<circle cx="134.03" cy="223.63" r="2.6" fill="url(#gR)"/>
<circle cx="138.54" cy="221.98" r="2.6" fill="url(#gR)"/>
<circle cx="143.04" cy="220.39" r="2.6" fill="url(#gR)"/>
<circle cx="147.54" cy="219.27" r="2.6" fill="url(#gR)"/>
<circle cx="152.04" cy="218.42" r="2.6" fill="url(#gR)"/>
<circle cx="156.54" cy="217.7" r="2.6" fill="url(#gR)"/>
<circle cx="161.04" cy="217.05" r="2.6" fill="url(#gR)"/>
<circle cx="165.55" cy="216.4" r="2.6" fill="url(#gR)"/>
<circle cx="170.05" cy="215.73" r="2.6" fill="url(#gR)"/>
<circle cx="174.55" cy="215.09" r="2.6" fill="url(#gR)"/>
<circle cx="179.05" cy="214.46" r="2.6" fill="url(#gR)"/>
<circle cx="183.55" cy="213.87" r="2.6" fill="url(#gR)"/>
<circle cx="188.06" cy="213.3" r="2.6" fill="url(#gR)"/>
<circle cx="192.56" cy="212.78" r="2.6" fill="url(#gR)"/>
<circle cx="197.06" cy="212.29" r="2.6" fill="url(#gR)"/>
<circle cx="201.56" cy="211.8" r="2.6" fill="url(#gR)"/>
<circle cx="206.06" cy="211.29" r="2.6" fill="url(#gR)"/>
<circle cx="210.57" cy="210.76" r="2.6" fill="url(#gR)"/>
<circle cx="215.07" cy="210.17" r="2.6" fill="url(#gR)"/>
<circle cx="221.65" cy="209.03" r="2.6" fill="url(#gR)"/>
<circle cx="32.4" cy="313.45" r="2.6" fill="url(#gO)"/>
<circle cx="34.98" cy="311.55" r="2.6" fill="url(#gO)"/>
<circle cx="37.47" cy="309.54" r="2.6" fill="url(#gO)"/>
<circle cx="39.91" cy="307.46" r="2.6" fill="url(#gO)"/>
<circle cx="42.27" cy="305.29" r="2.6" fill="url(#gO)"/>
<circle cx="44.44" cy="302.94" r="2.6" fill="url(#gO)"/>
<circle cx="46.41" cy="300.41" r="2.6" fill="url(#gO)"/>
<circle cx="48.21" cy="297.76" r="2.6" fill="url(#gO)"/>
<circle cx="49.89" cy="295.03" r="2.6" fill="url(#gO)"/>
<circle cx="51.36" cy="292.18" r="2.6" fill="url(#gO)"/>
<circle cx="52.76" cy="289.3" r="2.6" fill="url(#gO)"/>
<circle cx="54.18" cy="286.42" r="2.6" fill="url(#gO)"/>
<circle cx="55.6" cy="283.54" r="2.6" fill="url(#gO)"/>
<circle cx="57.04" cy="280.68" r="2.6" fill="url(#gO)"/>
<circle cx="58.53" cy="277.85" r="2.6" fill="url(#gO)"/>
<circle cx="60.05" cy="275.02" r="2.6" fill="url(#gO)"/>
<circle cx="61.53" cy="272.18" r="2.6" fill="url(#gO)"/>
<circle cx="62.95" cy="269.3" r="2.6" fill="url(#gO)"/>
<circle cx="64.32" cy="266.4" r="2.6" fill="url(#gO)"/>
<circle cx="65.67" cy="263.49" r="2.6" fill="url(#gO)"/>
<circle cx="67.05" cy="260.59" r="2.6" fill="url(#gO)"/>
<circle cx="68.4" cy="257.68" r="2.6" fill="url(#gO)"/>
<circle cx="69.77" cy="254.78" r="2.6" fill="url(#gO)"/>
<circle cx="71.26" cy="251.95" r="2.6" fill="url(#gO)"/>
<circle cx="72.89" cy="249.19" r="2.6" fill="url(#gO)"/>
<circle cx="74.72" cy="246.56" r="2.6" fill="url(#gO)"/>
<circle cx="77.09" cy="244.4" r="2.6" fill="url(#gO)"/>
<circle cx="79.69" cy="242.56" r="2.6" fill="url(#gO)"/>
<circle cx="82.26" cy="240.65" r="2.6" fill="url(#gO)"/>
<circle cx="84.86" cy="238.81" r="2.6" fill="url(#gO)"/>
<circle cx="87.46" cy="237.04" r="2.6" fill="url(#gO)"/>
<circle cx="90.06" cy="235.41" r="2.6" fill="url(#gO)"/>
<circle cx="92.67" cy="233.97" r="2.6" fill="url(#gO)"/>
<circle cx="95.27" cy="232.44" r="2.6" fill="url(#gO)"/>
<circle cx="97.87" cy="230.65" r="2.6" fill="url(#gO)"/>
<circle cx="100.47" cy="228.87" r="2.6" fill="url(#gO)"/>
<circle cx="103.07" cy="227.46" r="2.6" fill="url(#gO)"/>
<circle cx="105.67" cy="226.31" r="2.6" fill="url(#gO)"/>
<circle cx="108.27" cy="225.29" r="2.6" fill="url(#gO)"/>
<circle cx="110.87" cy="224.35" r="2.6" fill="url(#gO)"/>
<circle cx="113.48" cy="223.44" r="2.6" fill="url(#gO)"/>
<circle cx="116.08" cy="222.51" r="2.6" fill="url(#gO)"/>
<circle cx="118.68" cy="221.54" r="2.6" fill="url(#gO)"/>
<circle cx="121.28" cy="220.56" r="2.6" fill="url(#gO)"/>
<circle cx="123.88" cy="219.62" r="2.6" fill="url(#gO)"/>
<circle cx="126.48" cy="218.77" r="2.6" fill="url(#gO)"/>
<circle cx="129.08" cy="217.99" r="2.6" fill="url(#gO)"/>
<circle cx="34.3" cy="310" r="2.25" fill="#fff" stroke="#dd3030" stroke-width="0.75"/>
<circle cx="41.45" cy="302.31" r="2.25" fill="#fff" stroke="#dd3030" stroke-width="0.75"/>
<circle cx="49.26" cy="295.28" r="2.25" fill="#fff" stroke="#dd3030" stroke-width="0.75"/>
<circle cx="55.79" cy="287.06" r="2.25" fill="#fff" stroke="#dd3030" stroke-width="0.75"/>
<circle cx="61.07" cy="277.97" r="2.25" fill="#fff" stroke="#dd3030" stroke-width="0.75"/>
<circle cx="65.88" cy="268.63" r="2.25" fill="#fff" stroke="#dd3030" stroke-width="0.75"/>
<circle cx="71.21" cy="259.57" r="2.25" fill="#fff" stroke="#dd3030" stroke-width="0.75"/>
<circle cx="76.26" cy="250.36" r="2.25" fill="#fff" stroke="#dd3030" stroke-width="0.75"/>
<circle cx="82.92" cy="242.23" r="2.25" fill="#fff" stroke="#dd3030" stroke-width="0.75"/>
<circle cx="91.19" cy="235.76" r="2.25" fill="#fff" stroke="#dd3030" stroke-width="0.75"/>
<circle cx="100.32" cy="230.57" r="2.25" fill="#fff" stroke="#dd3030" stroke-width="0.75"/>
<circle cx="109.82" cy="226.07" r="2.25" fill="#fff" stroke="#dd3030" stroke-width="0.75"/>
<circle cx="119.32" cy="222.85" r="2.25" fill="#fff" stroke="#dd3030" stroke-width="0.75"/>
<circle cx="128.82" cy="220.27" r="2.25" fill="#fff" stroke="#dd3030" stroke-width="0.75"/>
<circle cx="138.33" cy="218.07" r="2.25" fill="#fff" stroke="#dd3030" stroke-width="0.75"/>
<circle cx="147.83" cy="215.8" r="2.25" fill="#fff" stroke="#dd3030" stroke-width="0.75"/>
<circle cx="157.33" cy="214.57" r="2.25" fill="#fff" stroke="#dd3030" stroke-width="0.75"/>
<circle cx="166.84" cy="213.27" r="2.25" fill="#fff" stroke="#dd3030" stroke-width="0.75"/>
<circle cx="176.34" cy="212.07" r="2.25" fill="#fff" stroke="#dd3030" stroke-width="0.75"/>
<circle cx="185.84" cy="211.25" r="2.25" fill="#fff" stroke="#dd3030" stroke-width="0.75"/>
<circle cx="195.34" cy="209.79" r="2.25" fill="#fff" stroke="#dd3030" stroke-width="0.75"/>
<circle cx="204.85" cy="208.94" r="2.25" fill="#fff" stroke="#dd3030" stroke-width="0.75"/>
<circle cx="34.3" cy="307.8" r="2.25" fill="#fff" stroke="#ff8c1a" stroke-width="0.95"/>
<circle cx="39.02" cy="301.96" r="2.25" fill="#fff" stroke="#ff8c1a" stroke-width="0.95"/>
<circle cx="44.02" cy="296.83" r="2.25" fill="#fff" stroke="#ff8c1a" stroke-width="0.95"/>
<circle cx="48.29" cy="290.66" r="2.25" fill="#fff" stroke="#ff8c1a" stroke-width="0.95"/>
<circle cx="51.79" cy="284.02" r="2.25" fill="#fff" stroke="#ff8c1a" stroke-width="0.95"/>
<circle cx="55.18" cy="277.32" r="2.25" fill="#fff" stroke="#ff8c1a" stroke-width="0.95"/>
<circle cx="58.68" cy="270.69" r="2.25" fill="#fff" stroke="#ff8c1a" stroke-width="0.95"/>
<circle cx="61.9" cy="263.91" r="2.25" fill="#fff" stroke="#ff8c1a" stroke-width="0.95"/>
<circle cx="63.9" cy="256.67" r="2.25" fill="#fff" stroke="#ff8c1a" stroke-width="0.95"/>
<circle cx="66.26" cy="249.54" r="2.25" fill="#fff" stroke="#ff8c1a" stroke-width="0.95"/>
<circle cx="70.33" cy="243.24" r="2.25" fill="#fff" stroke="#ff8c1a" stroke-width="0.95"/>
<circle cx="75.33" cy="238.39" r="2.25" fill="#fff" stroke="#ff8c1a" stroke-width="0.95"/>
<circle cx="80.33" cy="233.79" r="2.25" fill="#fff" stroke="#ff8c1a" stroke-width="0.95"/>
<circle cx="85.33" cy="230.27" r="2.25" fill="#fff" stroke="#ff8c1a" stroke-width="0.95"/>
<circle cx="90.33" cy="227.26" r="2.25" fill="#fff" stroke="#ff8c1a" stroke-width="0.95"/>
<circle cx="95.33" cy="224.91" r="2.25" fill="#fff" stroke="#ff8c1a" stroke-width="0.95"/>
<circle cx="100.33" cy="223.18" r="2.25" fill="#fff" stroke="#ff8c1a" stroke-width="0.95"/>
<circle cx="105.34" cy="221.82" r="2.25" fill="#fff" stroke="#ff8c1a" stroke-width="0.95"/>
<circle cx="110.34" cy="220.45" r="2.25" fill="#fff" stroke="#ff8c1a" stroke-width="0.95"/>
<circle cx="115.34" cy="219.19" r="2.25" fill="#fff" stroke="#ff8c1a" stroke-width="0.95"/>
<circle cx="120.34" cy="218.34" r="2.25" fill="#fff" stroke="#ff8c1a" stroke-width="0.95"/>
<circle cx="125.34" cy="217.28" r="2.25" fill="#fff" stroke="#ff8c1a" stroke-width="0.95"/>
<circle cx="130.34" cy="216.59" r="2.25" fill="#fff" stroke="#ff8c1a" stroke-width="0.95"/>
<line x1="32.4" y1="175.28" x2="32.4" y2="318.4" stroke="#000" stroke-width="1.0" />
<line x1="31.9" y1="317.9" x2="226.5" y2="317.9" stroke="#000" stroke-width="1.0" />
<line x1="28.9" y1="317.9" x2="32.4" y2="317.9" stroke="#000" stroke-width="1.0" />
<line x1="28.9" y1="282.32" x2="32.4" y2="282.32" stroke="#000" stroke-width="1.0" />
<line x1="28.9" y1="246.74" x2="32.4" y2="246.74" stroke="#000" stroke-width="1.0" />
<line x1="28.9" y1="211.16" x2="32.4" y2="211.16" stroke="#000" stroke-width="1.0" />
<line x1="28.9" y1="175.58" x2="32.4" y2="175.58" stroke="#000" stroke-width="1.0" />
<line x1="29.9" y1="300.11" x2="32.4" y2="300.11" stroke="#000" stroke-width="1.0" />
<line x1="29.9" y1="264.53" x2="32.4" y2="264.53" stroke="#000" stroke-width="1.0" />
<line x1="29.9" y1="228.95" x2="32.4" y2="228.95" stroke="#000" stroke-width="1.0" />
<line x1="29.9" y1="193.37" x2="32.4" y2="193.37" stroke="#000" stroke-width="1.0" />
<line x1="32.4" y1="317.9" x2="32.4" y2="321.4" stroke="#000" stroke-width="1.0" />
<line x1="70.44" y1="317.9" x2="70.44" y2="321.4" stroke="#000" stroke-width="1.0" />
<line x1="108.48" y1="317.9" x2="108.48" y2="321.4" stroke="#000" stroke-width="1.0" />
<line x1="146.52" y1="317.9" x2="146.52" y2="321.4" stroke="#000" stroke-width="1.0" />
<line x1="184.56" y1="317.9" x2="184.56" y2="321.4" stroke="#000" stroke-width="1.0" />
<line x1="222.6" y1="317.9" x2="222.6" y2="321.4" stroke="#000" stroke-width="1.0" />
<line x1="51.42" y1="317.9" x2="51.42" y2="320.4" stroke="#000" stroke-width="1.0" />
<line x1="89.46" y1="317.9" x2="89.46" y2="320.4" stroke="#000" stroke-width="1.0" />
<line x1="127.5" y1="317.9" x2="127.5" y2="320.4" stroke="#000" stroke-width="1.0" />
<line x1="165.54" y1="317.9" x2="165.54" y2="320.4" stroke="#000" stroke-width="1.0" />
<line x1="203.58" y1="317.9" x2="203.58" y2="320.4" stroke="#000" stroke-width="1.0" />
<text x="28" y="321.7" font-size="9.5" text-anchor="end" fill="#111" stroke="#111" >0</text>
<text x="28" y="286.12" font-size="9.5" text-anchor="end" fill="#111" stroke="#111" >20</text>
<text x="28" y="250.54" font-size="9.5" text-anchor="end" fill="#111" stroke="#111" >40</text>
<text x="28" y="214.96" font-size="9.5" text-anchor="end" fill="#111" stroke="#111" >60</text>
<text x="28" y="179.38" font-size="9.5" text-anchor="end" fill="#111" stroke="#111" >80</text>
<text x="32.1" y="330.1" font-size="9.5" text-anchor="middle" fill="#111" stroke="#111" >0</text>
<text x="70.14" y="330.1" font-size="9.5" text-anchor="middle" fill="#111" stroke="#111" >0.2</text>
<text x="108.18" y="330.1" font-size="9.5" text-anchor="middle" fill="#111" stroke="#111" >0.4</text>
<text x="146.22" y="330.1" font-size="9.5" text-anchor="middle" fill="#111" stroke="#111" >0.6</text>
<text x="184.26" y="330.1" font-size="9.5" text-anchor="middle" fill="#111" stroke="#111" >0.8</text>
<text x="222.3" y="330.1" font-size="9.5" text-anchor="middle" fill="#111" stroke="#111" >1.0</text>
<circle cx="41.4" cy="181.7" r="2.7" fill="url(#gO)"/>
<circle cx="41.4" cy="196.9" r="2.7" fill="url(#gR)"/>
<circle cx="41.4" cy="212.1" r="2.7" fill="url(#gG)"/>
<text x="48" y="185.5" font-size="9.4" text-anchor="start" fill="#111" stroke="#111" >50/50 C<tspan dy="3.3" font-size="6.5">3</tspan><tspan dy="-3.3">​</tspan>H<tspan dy="3.3" font-size="6.5">6</tspan><tspan dy="-3.3">​</tspan>/C<tspan dy="3.3" font-size="6.5">3</tspan><tspan dy="-3.3">​</tspan>H<tspan dy="3.3" font-size="6.5">8</tspan><tspan dy="-3.3">​</tspan></text>
<text x="48" y="200.7" font-size="9.4" text-anchor="start" fill="#111" stroke="#111" >C<tspan dy="3.3" font-size="6.5">3</tspan><tspan dy="-3.3">​</tspan>H<tspan dy="3.3" font-size="6.5">6</tspan><tspan dy="-3.3">​</tspan></text>
<text x="48" y="215.9" font-size="9.4" text-anchor="start" fill="#111" stroke="#111" >C<tspan dy="3.3" font-size="6.5">3</tspan><tspan dy="-3.3">​</tspan>H<tspan dy="3.3" font-size="6.5">8</tspan><tspan dy="-3.3">​</tspan></text>
<text transform="translate(12.6,246.2) rotate(-90)" font-size="9" text-anchor="middle" fill="#111" stroke="#111">Uptake (cm<tspan dy="-3.2" font-size="6">3</tspan><tspan dy="3.2"> </tspan>(STP) g<tspan dy="-3.2" font-size="6">−1</tspan><tspan dy="3.2"></tspan>)</text>
<text x="125.5" y="338.4" font-size="9" text-anchor="middle" fill="#111" stroke="#111" >Pressure (bar)</text>
<text x="235.3" y="176.7" font-size="10.5" text-anchor="start" fill="#000" stroke="#000" font-weight="bold" stroke-width="0.45">e</text>
<path d="M259.5,274.16 L295.33,274.16 L295.65,185.84 L295.72,185.84 L296.03,198.9 L296.34,210.03 L296.65,219.53 L296.96,227.62 L297.27,234.53 L297.59,240.41 L297.9,245.43 L298.21,249.72 L298.52,253.37 L298.83,256.48 L299.14,259.13 L299.45,261.4 L299.76,263.33 L300.07,264.97 L300.38,266.37 L300.69,267.57 L301,268.59 L301.31,269.46 L301.62,270.2 L301.93,270.84 L302.24,271.38 L302.55,271.84 L302.86,272.23 L303.17,272.56 L303.48,272.85 L303.79,273.09 L304.1,273.3 L304.41,273.48 L304.72,273.63 L305.03,273.76 L305.34,273.87 L305.65,273.96 L305.96,274.04 L306.27,274.11 L306.58,274.16 L306.89,274.21 L307.2,274.26 L307.51,274.29 L307.82,274.32 L308.13,274.35 L308.44,274.37 L308.76,274.39 L309.07,274.41 L309.38,274.42 L309.69,274.43 L310,274.44 L310.31,274.45 L310.62,274.46 L310.93,274.46 L311.24,274.47 L311.55,274.47 L311.86,274.48 L312.17,274.48 L312.48,274.48 L312.79,274.49 L313.1,274.49 L313.41,274.49 L313.72,274.49 L314.03,274.49 L352.98,274.5 L353.18,274.51 L353.37,274.53 L353.57,274.56 L353.77,274.61 L353.96,274.68 L354.16,274.77 L354.35,274.89 L354.55,275.02 L354.75,276.58 L354.94,282.47 L355.14,289.7 L355.34,294.87 L355.53,298.47 L355.73,301.45 L355.93,302.81 L356.12,302.59 L356.32,301.94 L356.51,301.05 L356.71,300.08 L356.91,298.73 L357.1,297.14 L357.3,295.63 L357.5,294.01 L357.69,292.34 L357.89,290.66 L358.09,289.01 L358.28,287.44 L358.48,286.01 L358.68,284.74 L358.87,283.69 L359.07,282.74 L359.26,281.82 L359.46,280.95 L359.66,280.14 L359.85,279.4 L360.05,278.73 L360.25,278.16 L360.44,277.68 L360.64,277.32 L360.84,277.01 L361.03,276.7 L361.23,276.42 L361.42,276.14 L361.62,275.89 L361.82,275.65 L362.01,275.43 L362.21,275.23 L362.41,275.05 L362.6,274.89 L362.8,274.76 L363,274.65 L363.19,274.57 L363.39,274.52 L363.58,274.49 L363.78,274.47 L363.98,274.45 L364.17,274.43 L364.37,274.41 L364.57,274.39 L364.76,274.38 L364.96,274.36 L365.16,274.35 L365.35,274.33 L365.55,274.32 L365.75,274.31 L365.94,274.3 L366.14,274.29 L366.33,274.28 L366.53,274.27 L366.73,274.26 L366.92,274.25 L367.12,274.25 L367.32,274.24 L367.51,274.23 L367.71,274.23 L367.91,274.23 L368.1,274.22 L368.3,274.22 L368.49,274.21 L368.69,274.21 L368.89,274.21 L369.08,274.21 L369.28,274.2 L369.48,274.2 L369.67,274.2 L369.87,274.2 L370.07,274.19 L370.26,274.19 L370.46,274.19 L370.65,274.19 L370.85,274.19 L371.05,274.18 L371.24,274.18 L371.44,274.18 L371.64,274.18 L371.83,274.18 L372.03,274.18 L372.23,274.17 L372.42,274.17 L372.62,274.17 L372.82,274.17 L373.01,274.17 L373.21,274.17 L373.4,274.17 L373.6,274.16 L373.8,274.16 L373.99,274.16 L374.19,274.16 L374.39,274.16 L374.58,274.16 L374.78,274.16 L374.98,274.16 L375.17,274.16 L375.37,274.16 L375.56,274.16 L375.76,274.16 L375.96,274.16 L376.15,274.16 L376.35,274.16 L430.88,274.16" fill="none" stroke="#000" stroke-width="0.9" stroke-linejoin="round"/>
<path d="M259.5,274.5 L295.33,274.5 L295.61,233.03 L295.72,233.03 L296.03,237.88 L296.34,242.17 L296.65,245.95 L296.96,249.29 L297.27,252.24 L297.59,254.85 L297.9,257.15 L298.21,259.18 L298.52,260.97 L298.83,262.56 L299.14,263.95 L299.45,265.19 L299.76,266.28 L300.07,267.24 L300.38,268.09 L300.69,268.84 L301,269.5 L301.31,270.09 L301.62,270.6 L301.93,271.06 L302.24,271.46 L302.55,271.82 L302.86,272.13 L303.17,272.41 L303.48,272.65 L303.79,272.87 L304.1,273.06 L304.41,273.23 L304.72,273.38 L305.03,273.51 L305.34,273.63 L305.65,273.73 L305.96,273.82 L306.27,273.9 L306.58,273.97 L306.89,274.03 L307.2,274.09 L307.51,274.13 L307.82,274.18 L308.13,274.21 L308.44,274.25 L308.76,274.28 L309.07,274.3 L309.38,274.33 L309.69,274.35 L310,274.36 L310.31,274.38 L310.62,274.39 L310.93,274.41 L311.24,274.42 L311.55,274.43 L311.86,274.44 L312.17,274.44 L312.48,274.45 L312.79,274.46 L313.1,274.46 L313.41,274.47 L313.72,274.47 L314.03,274.47 L352.98,274.5 L353.13,274.51 L353.28,274.54 L353.42,274.59 L353.57,274.67 L353.72,274.76 L353.87,274.88 L354.02,275.02 L354.16,275.51 L354.31,277.41 L354.46,280.32 L354.61,283.71 L354.75,287.06 L354.9,289.86 L355.05,292.14 L355.2,294.58 L355.35,296.94 L355.49,298.94 L355.64,300.32 L355.79,300.81 L355.94,300.33 L356.09,299.23 L356.23,297.88 L356.38,296.48 L356.53,294.6 L356.68,292.34 L356.83,289.85 L356.97,287.31 L357.12,284.85 L357.27,282.65 L357.42,280.85 L357.57,279.62 L357.71,278.95 L357.86,278.39 L358.01,277.88 L358.16,277.45 L358.3,277.07 L358.45,276.75 L358.6,276.49 L358.75,276.29 L358.9,276.15 L359.04,276.01 L359.19,275.89 L359.34,275.77 L359.49,275.66 L359.64,275.55 L359.78,275.46 L359.93,275.37 L360.08,275.29 L360.23,275.21 L360.38,275.14 L360.52,275.07 L360.67,275.02 L360.82,274.96 L360.97,274.92 L361.12,274.88 L361.26,274.84 L361.41,274.81 L361.56,274.78 L361.71,274.76 L361.85,274.74 L362,274.72 L362.15,274.7 L362.3,274.68 L362.45,274.66 L362.59,274.64 L362.74,274.62 L362.89,274.6 L363.04,274.59 L363.19,274.57 L363.33,274.56 L363.48,274.55 L363.63,274.54 L363.78,274.53 L363.93,274.52 L364.07,274.51 L364.22,274.51 L364.37,274.5 L364.52,274.5 L364.67,274.5 L430.88,274.5" fill="none" stroke="#ff1c24" stroke-width="1.0" stroke-linejoin="round"/>
<line x1="259.5" y1="174.4" x2="259.5" y2="318" stroke="#000" stroke-width="1.0" />
<line x1="259" y1="317.5" x2="454.6" y2="317.5" stroke="#000" stroke-width="1.0" />
<line x1="256" y1="303.1" x2="259.5" y2="303.1" stroke="#000" stroke-width="1.0" />
<line x1="256" y1="274.5" x2="259.5" y2="274.5" stroke="#000" stroke-width="1.0" />
<line x1="256" y1="245.9" x2="259.5" y2="245.9" stroke="#000" stroke-width="1.0" />
<line x1="256" y1="217.3" x2="259.5" y2="217.3" stroke="#000" stroke-width="1.0" />
<line x1="256" y1="188.7" x2="259.5" y2="188.7" stroke="#000" stroke-width="1.0" />
<line x1="257" y1="317.4" x2="259.5" y2="317.4" stroke="#000" stroke-width="1.0" />
<line x1="257" y1="288.8" x2="259.5" y2="288.8" stroke="#000" stroke-width="1.0" />
<line x1="257" y1="260.2" x2="259.5" y2="260.2" stroke="#000" stroke-width="1.0" />
<line x1="257" y1="231.6" x2="259.5" y2="231.6" stroke="#000" stroke-width="1.0" />
<line x1="257" y1="203" x2="259.5" y2="203" stroke="#000" stroke-width="1.0" />
<line x1="257" y1="174.4" x2="259.5" y2="174.4" stroke="#000" stroke-width="1.0" />
<line x1="259.5" y1="317.5" x2="259.5" y2="321" stroke="#000" stroke-width="1.0" />
<line x1="298.45" y1="317.5" x2="298.45" y2="321" stroke="#000" stroke-width="1.0" />
<line x1="337.4" y1="317.5" x2="337.4" y2="321" stroke="#000" stroke-width="1.0" />
<line x1="376.35" y1="317.5" x2="376.35" y2="321" stroke="#000" stroke-width="1.0" />
<line x1="415.3" y1="317.5" x2="415.3" y2="321" stroke="#000" stroke-width="1.0" />
<line x1="454.25" y1="317.5" x2="454.25" y2="321" stroke="#000" stroke-width="1.0" />
<line x1="278.98" y1="317.5" x2="278.98" y2="320" stroke="#000" stroke-width="1.0" />
<line x1="317.93" y1="317.5" x2="317.93" y2="320" stroke="#000" stroke-width="1.0" />
<line x1="356.88" y1="317.5" x2="356.88" y2="320" stroke="#000" stroke-width="1.0" />
<line x1="395.82" y1="317.5" x2="395.82" y2="320" stroke="#000" stroke-width="1.0" />
<line x1="434.77" y1="317.5" x2="434.77" y2="320" stroke="#000" stroke-width="1.0" />
<text x="255.3" y="306.9" font-size="9.5" text-anchor="end" fill="#111" stroke="#111" >−1</text>
<text x="255.3" y="278.3" font-size="9.5" text-anchor="end" fill="#111" stroke="#111" >0</text>
<text x="255.3" y="249.7" font-size="9.5" text-anchor="end" fill="#111" stroke="#111" >1</text>
<text x="255.3" y="221.1" font-size="9.5" text-anchor="end" fill="#111" stroke="#111" >2</text>
<text x="255.3" y="192.5" font-size="9.5" text-anchor="end" fill="#111" stroke="#111" >3</text>
<text x="259.2" y="330.2" font-size="9.5" text-anchor="middle" fill="#111" stroke="#111" >0</text>
<text x="298.15" y="330.2" font-size="9.5" text-anchor="middle" fill="#111" stroke="#111" >10</text>
<text x="337.1" y="330.2" font-size="9.5" text-anchor="middle" fill="#111" stroke="#111" >20</text>
<text x="376.05" y="330.2" font-size="9.5" text-anchor="middle" fill="#111" stroke="#111" >30</text>
<text x="415" y="330.2" font-size="9.5" text-anchor="middle" fill="#111" stroke="#111" >40</text>
<text x="453.95" y="330.2" font-size="9.5" text-anchor="middle" fill="#111" stroke="#111" >50</text>
<text transform="translate(245.3,246.9) rotate(-90)" font-size="9" text-anchor="middle" fill="#111" stroke="#111">Heat flow (W g<tspan dy="-3.2" font-size="6">−1</tspan><tspan dy="3.2"></tspan>)</text>
<text x="355.4" y="338" font-size="9" text-anchor="middle" fill="#111" stroke="#111"><tspan font-style="italic">T</tspan> (min)</text>
<line x1="364.1" y1="181" x2="386.3" y2="181" stroke="#555" stroke-width="0.9" />
<line x1="364.1" y1="195.6" x2="386.3" y2="195.6" stroke="#ff1c24" stroke-width="0.9" />
<text x="388.6" y="184.4" font-size="9.4" text-anchor="start" fill="#111" stroke="#111" >C<tspan dy="3.3" font-size="6.5">3</tspan><tspan dy="-3.3">​</tspan>H<tspan dy="3.3" font-size="6.5">6</tspan><tspan dy="-3.3">​</tspan></text>
<text x="387.5" y="199.7" font-size="9.4" text-anchor="start" fill="#111" stroke="#111" >50/50 C<tspan dy="3.3" font-size="6.5">3</tspan><tspan dy="-3.3">​</tspan>H<tspan dy="3.3" font-size="6.5">6</tspan><tspan dy="-3.3">​</tspan>/He</text>
<text x="297.6" y="207.6" font-size="9.4" text-anchor="start" fill="#111" stroke="#111" >−29.3 kJ mol<tspan dy="-3.2" font-size="6.5">−1</tspan><tspan dy="3.2"></tspan></text>
<text x="293.8" y="292" font-size="9.4" text-anchor="start" fill="#ff1c24" stroke="#ff1c24" >−24.1 kJ mol<tspan dy="-3.2" font-size="6.5">−1</tspan><tspan dy="3.2"></tspan></text>
<text x="356.4" y="262.9" font-size="9.4" text-anchor="start" fill="#ff1c24" stroke="#ff1c24" >17.6 kJ mol<tspan dy="-3.2" font-size="6.5">−1</tspan><tspan dy="3.2"></tspan></text>
<text x="359.4" y="307" font-size="9.4" text-anchor="start" fill="#111" stroke="#111" >22.6 kJ mol<tspan dy="-3.2" font-size="6.5">−1</tspan><tspan dy="3.2"></tspan></text>
<line x1="300.3" y1="284" x2="298.03" y2="278.55" stroke="#ff1c24" stroke-width="0.8" />
<path d="M296.8,275.6 L299.51,277.94 L296.55,279.17 Z" fill="#ff1c24"/>
<line x1="361.1" y1="266.3" x2="359.02" y2="270.89" stroke="#ff1c24" stroke-width="0.8" />
<path d="M357.7,273.8 L357.56,270.22 L360.48,271.55 Z" fill="#ff1c24"/>
<text x="459.3" y="176.7" font-size="10.5" text-anchor="start" fill="#000" stroke="#000" font-weight="bold" stroke-width="0.45">f</text>
<path d="M491.5,230.2 L525.9,230.2 L526.35,190.61 L526.47,190.89 L526.83,194.67 L527.2,198.1 L527.57,201.21 L527.94,204.03 L528.31,206.59 L528.68,208.91 L529.05,211.01 L529.42,212.92 L529.79,214.65 L530.16,216.22 L530.53,217.64 L530.9,218.93 L531.27,220.1 L531.64,221.16 L532.01,222.12 L532.38,222.99 L532.75,223.78 L533.12,224.5 L533.49,225.15 L533.86,225.74 L534.23,226.28 L534.6,226.76 L534.97,227.2 L535.34,227.6 L535.71,227.96 L536.08,228.29 L536.45,228.59 L536.82,228.85 L537.19,229.1 L537.56,229.32 L537.93,229.52 L538.3,229.7 L538.67,229.87 L539.04,230.02 L539.41,230.16 L539.78,230.28 L540.15,230.39 L540.52,230.49 L540.89,230.58 L541.26,230.67 L541.63,230.74 L542,230.81 L542.37,230.87 L542.74,230.93 L543.11,230.98 L543.48,231.03 L543.84,231.07 L544.21,231.11 L544.58,231.14 L544.95,231.17 L545.32,231.2 L545.69,231.23 L546.06,231.25 L546.43,231.27 L546.8,231.29 L547.17,231.31 L547.54,231.32 L547.91,231.34 L548.28,231.35 L548.65,231.36 L549.02,231.37 L549.39,231.38 L549.76,231.39 L550.13,231.4 L550.5,231.41 L550.87,231.41 L551.24,231.42 L551.61,231.43 L551.98,231.43 L574.66,231.48 L582.41,231.48 L582.9,235.65 L583.28,264.56 L583.58,296.81 L583.92,264.56 L584.49,242.32 L585.24,234.54 L586.76,231.76 L589.78,230.42 L657.82,230.42" fill="none" stroke="#000" stroke-width="0.9" stroke-linejoin="round"/>
<path d="M491.5,230.2 L525.78,230.2 L526.01,210.07 L526.09,209.52 L526.46,214.9 L526.84,218.72 L527.21,221.46 L527.59,223.43 L527.96,224.86 L528.34,225.91 L528.71,226.68 L529.09,227.26 L529.46,227.71 L529.84,228.05 L530.21,228.33 L530.59,228.55 L530.97,228.74 L531.34,228.89 L531.72,229.03 L532.09,229.14 L532.47,229.25 L532.84,229.34 L533.22,229.43 L533.59,229.5 L533.97,229.58 L534.34,229.64 L534.72,229.7 L535.09,229.76 L535.47,229.82 L535.84,229.87 L536.22,229.91 L536.59,229.96 L536.97,230 L537.34,230.04 L537.72,230.08 L538.1,230.11 L538.47,230.14 L538.85,230.17 L539.22,230.2 L539.6,230.23 L539.97,230.25 L540.35,230.28 L540.72,230.3 L541.1,230.32 L541.47,230.34 L541.85,230.36 L542.22,230.37 L542.6,230.39 L542.97,230.41 L543.35,230.42 L543.72,230.43 L544.1,230.45 L544.47,230.46 L544.85,230.47 L545.23,230.48 L545.6,230.49 L545.98,230.5 L546.35,230.51 L546.73,230.52 L547.1,230.52 L547.48,230.53 L547.85,230.54 L548.23,230.54 L548.6,230.55 L548.98,230.56 L549.35,230.56 L549.73,230.57 L550.1,230.57 L550.48,230.58 L550.85,230.58 L551.23,230.58 L551.6,230.59 L551.98,230.59 L574.66,230.53 L574.98,230.53 L575.3,230.53 L575.62,230.53 L575.94,230.53 L576.26,230.53 L576.58,230.53 L576.9,230.53 L577.22,230.53 L577.54,230.53 L577.86,230.53 L578.18,230.53 L578.5,230.53 L578.82,230.53 L579.14,230.53 L579.47,230.53 L579.79,230.53 L580.11,230.53 L580.43,230.53 L580.75,230.53 L581.07,230.53 L581.39,230.53 L581.71,230.53 L582.03,230.53 L582.35,230.53 L582.67,230.53 L582.99,230.53 L583.31,230.53 L583.63,233.25 L583.95,236.2 L584.27,235.33 L584.59,234.22 L584.91,233.07 L585.23,231.97 L585.55,231.27 L585.87,231.04 L586.19,230.86 L586.51,230.72 L586.83,230.6 L587.15,230.51 L587.47,230.45 L587.79,230.42 L588.11,230.42 L588.43,230.41 L588.75,230.4 L589.08,230.4 L589.4,230.39 L589.72,230.39 L590.04,230.39 L590.36,230.38 L590.68,230.38 L591,230.38 L591.32,230.37 L591.64,230.37 L591.96,230.37 L592.28,230.37 L592.6,230.37 L592.92,230.37 L593.24,230.37 L593.56,230.37 L657.82,230.37" fill="none" stroke="#ff1c24" stroke-width="1.0" stroke-linejoin="round"/>
<line x1="491.5" y1="175.6" x2="491.5" y2="315" stroke="#000" stroke-width="1.0" />
<line x1="491" y1="314.5" x2="680.8" y2="314.5" stroke="#000" stroke-width="1.0" />
<line x1="488" y1="314.6" x2="491.5" y2="314.6" stroke="#000" stroke-width="1.0" />
<line x1="488" y1="286.8" x2="491.5" y2="286.8" stroke="#000" stroke-width="1.0" />
<line x1="488" y1="259" x2="491.5" y2="259" stroke="#000" stroke-width="1.0" />
<line x1="488" y1="231.2" x2="491.5" y2="231.2" stroke="#000" stroke-width="1.0" />
<line x1="488" y1="203.4" x2="491.5" y2="203.4" stroke="#000" stroke-width="1.0" />
<line x1="488" y1="175.6" x2="491.5" y2="175.6" stroke="#000" stroke-width="1.0" />
<line x1="489" y1="300.7" x2="491.5" y2="300.7" stroke="#000" stroke-width="1.0" />
<line x1="489" y1="272.9" x2="491.5" y2="272.9" stroke="#000" stroke-width="1.0" />
<line x1="489" y1="245.1" x2="491.5" y2="245.1" stroke="#000" stroke-width="1.0" />
<line x1="489" y1="217.3" x2="491.5" y2="217.3" stroke="#000" stroke-width="1.0" />
<line x1="489" y1="189.5" x2="491.5" y2="189.5" stroke="#000" stroke-width="1.0" />
<line x1="491.5" y1="314.5" x2="491.5" y2="318" stroke="#000" stroke-width="1.0" />
<line x1="529.3" y1="314.5" x2="529.3" y2="318" stroke="#000" stroke-width="1.0" />
<line x1="567.1" y1="314.5" x2="567.1" y2="318" stroke="#000" stroke-width="1.0" />
<line x1="604.9" y1="314.5" x2="604.9" y2="318" stroke="#000" stroke-width="1.0" />
<line x1="642.7" y1="314.5" x2="642.7" y2="318" stroke="#000" stroke-width="1.0" />
<line x1="680.5" y1="314.5" x2="680.5" y2="318" stroke="#000" stroke-width="1.0" />
<line x1="510.4" y1="314.5" x2="510.4" y2="317" stroke="#000" stroke-width="1.0" />
<line x1="548.2" y1="314.5" x2="548.2" y2="317" stroke="#000" stroke-width="1.0" />
<line x1="586" y1="314.5" x2="586" y2="317" stroke="#000" stroke-width="1.0" />
<line x1="623.8" y1="314.5" x2="623.8" y2="317" stroke="#000" stroke-width="1.0" />
<line x1="661.6" y1="314.5" x2="661.6" y2="317" stroke="#000" stroke-width="1.0" />
<text x="487.3" y="318.4" font-size="9.5" text-anchor="end" fill="#111" stroke="#111" >−1.5</text>
<text x="487.3" y="290.6" font-size="9.5" text-anchor="end" fill="#111" stroke="#111" >−1.0</text>
<text x="487.3" y="262.8" font-size="9.5" text-anchor="end" fill="#111" stroke="#111" >−0.5</text>
<text x="487.3" y="235" font-size="9.5" text-anchor="end" fill="#111" stroke="#111" >0</text>
<text x="487.3" y="207.2" font-size="9.5" text-anchor="end" fill="#111" stroke="#111" >0.5</text>
<text x="487.3" y="179.4" font-size="9.5" text-anchor="end" fill="#111" stroke="#111" >1.0</text>
<text x="491.2" y="327.5" font-size="9.5" text-anchor="middle" fill="#111" stroke="#111" >0</text>
<text x="529" y="327.5" font-size="9.5" text-anchor="middle" fill="#111" stroke="#111" >10</text>
<text x="566.8" y="327.5" font-size="9.5" text-anchor="middle" fill="#111" stroke="#111" >20</text>
<text x="604.6" y="327.5" font-size="9.5" text-anchor="middle" fill="#111" stroke="#111" >30</text>
<text x="642.4" y="327.5" font-size="9.5" text-anchor="middle" fill="#111" stroke="#111" >40</text>
<text x="680.2" y="327.5" font-size="9.5" text-anchor="middle" fill="#111" stroke="#111" >50</text>
<text transform="translate(468.5,243.8) rotate(-90)" font-size="9" text-anchor="middle" fill="#111" stroke="#111">Heat flow (W g<tspan dy="-3.2" font-size="6">−1</tspan><tspan dy="3.2"></tspan>)</text>
<text x="583.6" y="338.4" font-size="9" text-anchor="middle" fill="#111" stroke="#111"><tspan font-style="italic">T</tspan> (min)</text>
<line x1="592.3" y1="182.2" x2="614.2" y2="182.2" stroke="#222" stroke-width="0.9" />
<line x1="592.3" y1="197.5" x2="614.2" y2="197.5" stroke="#ff1c24" stroke-width="0.9" />
<text x="615.5" y="185.9" font-size="9.4" text-anchor="start" fill="#111" stroke="#111" >C<tspan dy="3.3" font-size="6.5">3</tspan><tspan dy="-3.3">​</tspan>H<tspan dy="3.3" font-size="6.5">8</tspan><tspan dy="-3.3">​</tspan></text>
<text x="616.2" y="200.5" font-size="9.4" text-anchor="start" fill="#111" stroke="#111" >50/50 C<tspan dy="3.3" font-size="6.5">3</tspan><tspan dy="-3.3">​</tspan>H<tspan dy="3.3" font-size="6.5">8</tspan><tspan dy="-3.3">​</tspan>/He</text>
<text x="528.8" y="202" font-size="9.4" text-anchor="start" fill="#111" stroke="#111" >−16.1 kJ mol<tspan dy="-3.2" font-size="6.5">−1</tspan><tspan dy="3.2"></tspan></text>
<text x="518.8" y="247" font-size="9.4" text-anchor="start" fill="#ff1c24" stroke="#ff1c24" >−4.9 kJ mol<tspan dy="-3.2" font-size="6.5">−1</tspan><tspan dy="3.2"></tspan></text>
<text x="576.4" y="222.8" font-size="9.4" text-anchor="start" fill="#ff1c24" stroke="#ff1c24" >0.76 kJ mol<tspan dy="-3.2" font-size="6.5">−1</tspan><tspan dy="3.2"></tspan></text>
<text x="586.8" y="292.2" font-size="9.4" text-anchor="start" fill="#111" stroke="#111" >9.7 kJ mol<tspan dy="-3.2" font-size="6.5">−1</tspan><tspan dy="3.2"></tspan></text>
<line x1="531.7" y1="239" x2="529.01" y2="234.37" stroke="#ff1c24" stroke-width="0.8" />
<path d="M527.4,231.6 L530.39,233.56 L527.62,235.17 Z" fill="#ff1c24"/>
<line x1="588.4" y1="224.4" x2="586.96" y2="228.95" stroke="#ff1c24" stroke-width="0.8" />
<path d="M586,232 L585.44,228.47 L588.49,229.43 Z" fill="#ff1c24"/>
</svg>
</body></html>
